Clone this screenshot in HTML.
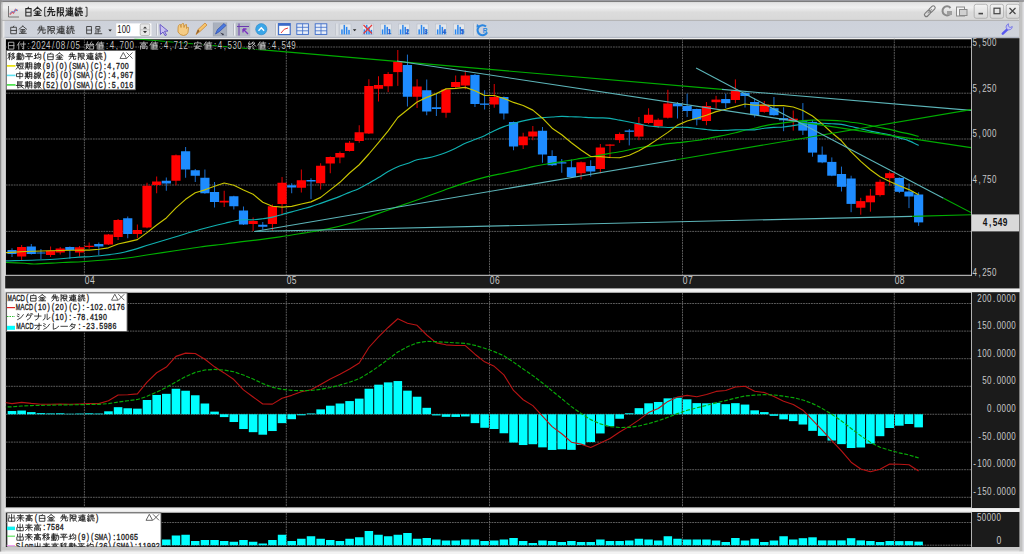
<!DOCTYPE html><html><head><meta charset="utf-8"><style>html,body{margin:0;padding:0;background:#ececec;overflow:hidden}svg{display:block}svg{font-family:"Liberation Sans",sans-serif}</style></head><body>
<svg width="1024" height="554" viewBox="0 0 1024 554">
<defs><linearGradient id="tb" x1="0" y1="0" x2="0" y2="1"><stop offset="0" stop-color="#e2e2e2"/><stop offset="0.28" stop-color="#f0f0f0"/><stop offset="0.55" stop-color="#dcdcdc"/><stop offset="1" stop-color="#d8d8d8"/></linearGradient><linearGradient id="btn" x1="0" y1="0" x2="0" y2="1"><stop offset="0" stop-color="#f4f4f4"/><stop offset="1" stop-color="#d6d6d6"/></linearGradient><linearGradient id="tool" x1="0" y1="0" x2="0" y2="1"><stop offset="0" stop-color="#cdd1da"/><stop offset="1" stop-color="#d0d4dc"/></linearGradient></defs>
<rect x="0" y="0" width="1024" height="554" fill="#e6e6e6"/>
<rect x="0" y="0" width="1024" height="1.1" fill="#9a9a9f"/>
<rect x="0" y="1" width="1024" height="1.2" fill="#7c7c7c"/>
<rect x="0" y="0" width="1.6" height="554" fill="#8e8e8e"/>
<rect x="1.6" y="2.2" width="1017.4" height="18.4" rx="3" fill="url(#tb)"/>
<rect x="1.6" y="1.6" width="1" height="552" fill="#bdbdbd"/>
<rect x="1019" y="1.6" width="3.7" height="550" fill="#c2c2c2"/>
<rect x="1022.7" y="1.6" width="1.3" height="550" fill="#dedee2"/>
<path d="M8.5 6v11h10.5" fill="none" stroke="#6a6a6a" stroke-width="0.9"/>
<path d="M9.8 14.5 L12 12 L13.5 13 L15.5 9.5 L17.5 10.5" fill="none" stroke="#e8505a" stroke-width="1.4"/>
<path d="M10 13.5 L12.5 11.5 L14.5 12.2 L16 9 L18 11" fill="none" stroke="#5a9ae8" stroke-width="0.9"/>
<path transform="translate(24.7 7.32) scale(0.7500 0.8600)" d="M5 0L4 1.5 M1.5 1.5H8.5V10H1.5Z M1.5 5.7H8.5" fill="none" stroke="#262626" stroke-width="1.05" vector-effect="non-scaling-stroke" stroke-linecap="square"/><path transform="translate(33.8 7.32) scale(0.7500 0.8600)" d="M5 0L0 4 M5 0L10 4 M2.5 4.5H7.5 M1.5 6.5H8.5 M5 4.5V9.5 M0.5 9.5H9.5 M3 7.5L3.5 8.8 M7 7.5L6.5 8.8" fill="none" stroke="#262626" stroke-width="1.05" vector-effect="non-scaling-stroke" stroke-linecap="square"/>
<path transform="translate(47.45 7.32) scale(0.7500 0.8600)" d="M3 0L2 3 M1 2.5H8 M5 0V5 M0 5H10 M3.5 5Q3 9 0.5 10 M6.5 5V9.5H9.5V8" fill="none" stroke="#262626" stroke-width="1.05" vector-effect="non-scaling-stroke" stroke-linecap="square"/><path transform="translate(56.55 7.32) scale(0.7500 0.8600)" d="M1 0.5V10 M1 0.5H3L2 3L3.5 5.5L1 7 M5 0.5H9V6H5Z M5 3.2H9 M5 6V10L7 8.5 M7 6L9.5 10" fill="none" stroke="#262626" stroke-width="1.05" vector-effect="non-scaling-stroke" stroke-linecap="square"/><path transform="translate(65.65 7.32) scale(0.7500 0.8600)" d="M1 1L2 2.2 M0.5 4H2V8L0 10 M1.5 8.5Q4 10 10 10 M3.5 1H9.5 M4 3H9V7H4Z M4 5H9 M3.5 8H9.5 M6.5 0V9.5" fill="none" stroke="#262626" stroke-width="1.05" vector-effect="non-scaling-stroke" stroke-linecap="square"/><path transform="translate(74.75 7.32) scale(0.7500 0.8600)" d="M2 0L0.8 3L3 3.5 M3 2L0.5 6.5H3.5 M2 6.5V10 M0.5 8L1 9.5 M3.5 8L3 9.5 M4.5 1H9.5 M7 0V3 M5 3H9 M4 5H10V6.5 M6 6.5L4.5 10 M8 6.5V9.5H10" fill="none" stroke="#262626" stroke-width="1.05" vector-effect="non-scaling-stroke" stroke-linecap="square"/>
<path d="M46.4 7.3h-1.7v8.9h1.7 M85.3 7.3h1.7v8.9h-1.7" fill="none" stroke="#262626" stroke-width="0.9"/>
<g transform="translate(929.8 11.2) rotate(-45)" fill="none" stroke="#7a7a7a" stroke-width="1.1"><rect x="-6.8" y="-1.9" width="7.4" height="3.8" rx="1.9"/><rect x="-0.6" y="-1.9" width="7.4" height="3.8" rx="1.9"/><path d="M-3 0h6" stroke="#9a9a9a"/></g>
<path d="M950.5 8 a4.5 4.5 0 1 0 0.5 5" fill="none" stroke="#8a8a8a" stroke-width="2"/><rect x="947" y="11" width="5" height="4" fill="#a0a0a0"/>
<rect x="956.5" y="7" width="8" height="9" fill="#f4f4f4" stroke="#8a8a8a" stroke-width="1"/><rect x="959.5" y="9.5" width="7.5" height="6" fill="#d0d0d0" stroke="#8a8a8a" stroke-width="1"/>
<rect x="974.2" y="4.3" width="13.4" height="14" rx="2" fill="url(#btn)" stroke="#a8a8a8" stroke-width="0.8"/>
<rect x="990.2" y="4.3" width="13.4" height="14" rx="2" fill="url(#btn)" stroke="#a8a8a8" stroke-width="0.8"/>
<rect x="1006.2" y="4.3" width="13.4" height="14" rx="2" fill="url(#btn)" stroke="#a8a8a8" stroke-width="0.8"/>
<rect x="978.5" y="12.8" width="4.5" height="1.6" fill="#444"/>
<rect x="994" y="8.2" width="6" height="5.5" fill="none" stroke="#444" stroke-width="1.2"/>
<path d="M1009.5 8 l6 6 M1015.5 8 l-6 6" stroke="#444" stroke-width="1.2"/>
<rect x="4.5" y="20.3" width="1014.5" height="17.2" fill="url(#tool)"/>
<rect x="1.6" y="19.9" width="1017.4" height="1" fill="#b2b2b2"/>
<rect x="4.5" y="36.9" width="1014.5" height="0.8" fill="#9aa2b2"/>
<path transform="translate(10.1 26.12) scale(0.7400 0.7600)" d="M5 0L4 1.5 M1.5 1.5H8.5V10H1.5Z M1.5 5.7H8.5" fill="none" stroke="#333" stroke-width="0.85" vector-effect="non-scaling-stroke" stroke-linecap="square"/><path transform="translate(19.1 26.12) scale(0.7400 0.7600)" d="M5 0L0 4 M5 0L10 4 M2.5 4.5H7.5 M1.5 6.5H8.5 M5 4.5V9.5 M0.5 9.5H9.5 M3 7.5L3.5 8.8 M7 7.5L6.5 8.8" fill="none" stroke="#333" stroke-width="0.85" vector-effect="non-scaling-stroke" stroke-linecap="square"/>
<path transform="translate(37.7 26.12) scale(0.7900 0.7600)" d="M3 0L2 3 M1 2.5H8 M5 0V5 M0 5H10 M3.5 5Q3 9 0.5 10 M6.5 5V9.5H9.5V8" fill="none" stroke="#333" stroke-width="0.85" vector-effect="non-scaling-stroke" stroke-linecap="square"/><path transform="translate(47.2 26.12) scale(0.7900 0.7600)" d="M1 0.5V10 M1 0.5H3L2 3L3.5 5.5L1 7 M5 0.5H9V6H5Z M5 3.2H9 M5 6V10L7 8.5 M7 6L9.5 10" fill="none" stroke="#333" stroke-width="0.85" vector-effect="non-scaling-stroke" stroke-linecap="square"/><path transform="translate(56.7 26.12) scale(0.7900 0.7600)" d="M1 1L2 2.2 M0.5 4H2V8L0 10 M1.5 8.5Q4 10 10 10 M3.5 1H9.5 M4 3H9V7H4Z M4 5H9 M3.5 8H9.5 M6.5 0V9.5" fill="none" stroke="#333" stroke-width="0.85" vector-effect="non-scaling-stroke" stroke-linecap="square"/><path transform="translate(66.2 26.12) scale(0.7900 0.7600)" d="M2 0L0.8 3L3 3.5 M3 2L0.5 6.5H3.5 M2 6.5V10 M0.5 8L1 9.5 M3.5 8L3 9.5 M4.5 1H9.5 M7 0V3 M5 3H9 M4 5H10V6.5 M6 6.5L4.5 10 M8 6.5V9.5H10" fill="none" stroke="#333" stroke-width="0.85" vector-effect="non-scaling-stroke" stroke-linecap="square"/>
<path transform="translate(85.7 26.12) scale(0.7200 0.7600)" d="M2 0.5H8V10H2Z M2 5.2H8" fill="none" stroke="#333" stroke-width="0.85" vector-effect="non-scaling-stroke" stroke-linecap="square"/><path transform="translate(94.5 26.12) scale(0.7200 0.7600)" d="M2.5 0.5H7.5V4H2.5Z M5 4V9 M5 6.5H8 M2 5.5V9 M0.5 10H10" fill="none" stroke="#333" stroke-width="0.85" vector-effect="non-scaling-stroke" stroke-linecap="square"/>
<path d="M108.3 29.6h3.6l-1.8 2z" fill="#222"/>
<rect x="116.2" y="23.4" width="35.2" height="12.6" fill="#fff"/>
<text x="117.3" y="33" font-size="10.5" textLength="13" lengthAdjust="spacingAndGlyphs" fill="#111" font-family="Liberation Sans">100</text>
<rect x="140.2" y="23.9" width="9.6" height="11.6" rx="1.5" fill="#e8e8e8" stroke="#9a9a9a" stroke-width="0.6"/><path d="M143 28.6h4l-2-2.2z M143 31h4l-2 2.2z" fill="#333"/><path d="M140.4 29.8h9.2" stroke="#9a9a9a" stroke-width="0.5"/>
<rect x="156" y="23.5" width="1" height="12" fill="#b8bcc4"/><rect x="157" y="23.5" width="0.8" height="12" fill="#f6f7f9"/>
<rect x="233" y="23.5" width="1" height="12" fill="#b8bcc4"/><rect x="234" y="23.5" width="0.8" height="12" fill="#f6f7f9"/>
<rect x="275" y="23.5" width="1" height="12" fill="#b8bcc4"/><rect x="276" y="23.5" width="0.8" height="12" fill="#f6f7f9"/>
<rect x="335.5" y="23.5" width="1" height="12" fill="#b8bcc4"/><rect x="336.5" y="23.5" width="0.8" height="12" fill="#f6f7f9"/>
<rect x="473.5" y="23.5" width="1" height="12" fill="#b8bcc4"/><rect x="474.5" y="23.5" width="0.8" height="12" fill="#f6f7f9"/>
<path d="M160 24.5 L168 31 L164.5 31.3 L166.5 35 L165 35.6 L163 32 L160.5 34.5 Z" fill="#c8c0f0" stroke="#6a5ac8" stroke-width="1"/>
<path d="M178 29 q0 -5 2.5 -4.5 l0.5 3 q0 -4.5 2.5 -4 l0.5 4 q0.5 -3.5 2.5 -3 l0 4 q1 -2 2 -1 l-0.5 5 q-1 3 -4.5 3 q-3.5 0 -5.5 -3.5 z" fill="#f5cc85" stroke="#c88a30" stroke-width="0.8"/>
<path d="M196 34.5 l2 -5 l7 -6.5 l2 2 l-7 6.5 z" fill="#f7c46a" stroke="#c8883a" stroke-width="0.8"/><path d="M196 34.5 l2 -5 l1.5 1.5z" fill="#8a5a2a"/>
<rect x="212.9" y="22.6" width="14.2" height="13.7" fill="#9aa2b0"/><rect x="213.3" y="23" width="13.4" height="12.9" fill="#a9b0bd"/>
<path d="M215.5 34 l2 -4.5 l6.5 -6 l2 2 l-6.5 6 z" fill="#4a7ae0" stroke="#2a4ab0" stroke-width="0.7"/><path d="M220 32.5 l4 1.5 l-1 1.5z" fill="#334"/>
<rect x="236" y="22.6" width="14.2" height="13.7" fill="#b4bac5"/><path d="M239 23.5v12 M237 26.5h12" stroke="#6a3ab0" stroke-width="1"/><path d="M243 29 l5 5 M243 29 h3.5 M243 29 v3.5" stroke="#7a30c0" stroke-width="1.3" fill="none"/>
<circle cx="261.3" cy="29.2" r="5.6" fill="#3aa6e8" stroke="#2a86c8" stroke-width="0.6"/><path d="M258.5 30.8 l2.8 -3 l2.8 3" fill="none" stroke="#fff" stroke-width="1.4"/>
<rect x="278.6" y="23.6" width="11.6" height="11" fill="#fff" stroke="#3a6ac8" stroke-width="1.1"/><rect x="278.6" y="23.6" width="11.6" height="2.2" fill="#3a6ac8"/><path d="M281 33 q3 -5 7 -5" stroke="#e83a3a" stroke-width="1" fill="none"/>
<rect x="296.8" y="23.8" width="11.6" height="10.6" fill="#e8eef8" stroke="#3a6ac8" stroke-width="0.9"/><path d="M296.8 27.3h11.6 M296.8 30.8h11.6 M302.6 23.8v10.6" stroke="#3a6ac8" stroke-width="0.8"/>
<rect x="315.2" y="23.8" width="11.6" height="10.6" fill="#e8eef8" stroke="#3a6ac8" stroke-width="0.9"/><path d="M315.2 27.3h11.6 M315.2 30.8h11.6 M321 23.8v10.6" stroke="#3a6ac8" stroke-width="0.8"/>
<rect x="339.8" y="24" width="11.2" height="10.7" fill="#e4e7ec" stroke="#b8bec8" stroke-width="0.6"/><rect x="341.2" y="29.4" width="1.5" height="5" fill="#2a86ee"/><rect x="343.55" y="24.9" width="1.5" height="9.5" fill="#2a86ee"/><rect x="345.9" y="26.9" width="1.5" height="7.5" fill="#2a86ee"/><rect x="348.25" y="29.9" width="1.5" height="4.5" fill="#2a86ee"/><path d="M352.8 29.3h3.6l-1.8 2z" fill="#222"/>
<rect x="362.2" y="24" width="11.2" height="10.7" fill="#e4e7ec" stroke="#b8bec8" stroke-width="0.6"/><rect x="363.6" y="29.4" width="1.5" height="5" fill="#2a86ee"/><rect x="365.95" y="24.9" width="1.5" height="9.5" fill="#2a86ee"/><rect x="368.3" y="26.9" width="1.5" height="7.5" fill="#2a86ee"/><rect x="370.65" y="29.9" width="1.5" height="4.5" fill="#2a86ee"/><path d="M363.5 25 l8.5 8.5 M372 25 l-8.5 8.5" stroke="#e83a3a" stroke-width="1.2"/>
<rect x="380.4" y="24" width="11.2" height="10.7" fill="#e4e7ec" stroke="#b8bec8" stroke-width="0.6"/><rect x="381.8" y="29.4" width="1.5" height="5" fill="#2a86ee"/><rect x="384.15" y="24.9" width="1.5" height="9.5" fill="#2a86ee"/><rect x="386.5" y="26.9" width="1.5" height="7.5" fill="#2a86ee"/><rect x="388.85" y="29.9" width="1.5" height="4.5" fill="#2a86ee"/><text x="387.4" y="33.5" font-size="6.5" fill="#2a5ac8" font-weight="bold" font-family="Liberation Sans">1</text>
<rect x="398.4" y="24" width="11.2" height="10.7" fill="#e4e7ec" stroke="#b8bec8" stroke-width="0.6"/><rect x="399.8" y="29.4" width="1.5" height="5" fill="#2a86ee"/><rect x="402.15" y="24.9" width="1.5" height="9.5" fill="#2a86ee"/><rect x="404.5" y="26.9" width="1.5" height="7.5" fill="#2a86ee"/><rect x="406.85" y="29.9" width="1.5" height="4.5" fill="#2a86ee"/><text x="405.4" y="33.5" font-size="6.5" fill="#2a5ac8" font-weight="bold" font-family="Liberation Sans">2</text>
<rect x="417" y="24" width="11.2" height="10.7" fill="#e4e7ec" stroke="#b8bec8" stroke-width="0.6"/><rect x="418.4" y="29.4" width="1.5" height="5" fill="#2a86ee"/><rect x="420.75" y="24.9" width="1.5" height="9.5" fill="#2a86ee"/><rect x="423.1" y="26.9" width="1.5" height="7.5" fill="#2a86ee"/><rect x="425.45" y="29.9" width="1.5" height="4.5" fill="#2a86ee"/><text x="424" y="33.5" font-size="6.5" fill="#2a5ac8" font-weight="bold" font-family="Liberation Sans">3</text>
<rect x="435.5" y="24" width="11.2" height="10.7" fill="#e4e7ec" stroke="#b8bec8" stroke-width="0.6"/><rect x="436.9" y="29.4" width="1.5" height="5" fill="#2a86ee"/><rect x="439.25" y="24.9" width="1.5" height="9.5" fill="#2a86ee"/><rect x="441.6" y="26.9" width="1.5" height="7.5" fill="#2a86ee"/><rect x="443.95" y="29.9" width="1.5" height="4.5" fill="#2a86ee"/><text x="442.5" y="33.5" font-size="6.5" fill="#2a5ac8" font-weight="bold" font-family="Liberation Sans">4</text>
<rect x="453.4" y="24" width="11.2" height="10.7" fill="#e4e7ec" stroke="#b8bec8" stroke-width="0.6"/><rect x="454.8" y="29.4" width="1.5" height="5" fill="#2a86ee"/><rect x="457.15" y="24.9" width="1.5" height="9.5" fill="#2a86ee"/><rect x="459.5" y="26.9" width="1.5" height="7.5" fill="#2a86ee"/><rect x="461.85" y="29.9" width="1.5" height="4.5" fill="#2a86ee"/><text x="460.4" y="33.5" font-size="6.5" fill="#2a5ac8" font-weight="bold" font-family="Liberation Sans">5</text>
<path d="M486 26.5 a5 5 0 1 0 1 6" fill="none" stroke="#2a86e0" stroke-width="2"/><path d="M477 24 l3 2.5 l-3.5 1z" fill="#2a86e0"/><text x="482.8" y="32.5" font-size="6.5" fill="#2a86e0" font-weight="bold" font-family="Liberation Sans">R</text>
<path d="M1002.8 33.6 l5.6 -5.2" stroke="#5858f0" stroke-width="2.5" stroke-linecap="round"/><path d="M1007 29.2 a3.3 3.3 0 0 1 1.5 -5.4 l-0.2 2.4 l1.8 1.3 l2.2 -1 a3.3 3.3 0 0 1 -5.3 2.7z" fill="#c4c4f4" stroke="#7474e4" stroke-width="0.9"/>
<rect x="1.6" y="37.7" width="3.6" height="516" fill="#d2d2d2"/>
<rect x="4.6" y="37.7" width="1" height="510" fill="#e4e4e4"/>
<rect x="5.2" y="38.2" width="1014.2" height="250.5" fill="#1b1b1b"/>
<rect x="5.6" y="38.6" width="965.6" height="236.6" fill="#000"/>
<rect x="5.1" y="37.9" width="966.8" height="1.4" fill="#ececec"/>
<rect x="5.1" y="37.9" width="0.9" height="238" fill="#dadada"/>
<rect x="971" y="37.9" width="0.9" height="238" fill="#c4c4c4"/>
<rect x="5.1" y="274.8" width="966.8" height="1" fill="#d2d2d2"/>
<line x1="5.8" y1="47" x2="971" y2="47" stroke="#686868" stroke-width="0.9" stroke-dasharray="1.8 0.84"/>
<line x1="5.8" y1="93.2" x2="971" y2="93.2" stroke="#686868" stroke-width="0.9" stroke-dasharray="1.8 0.84"/>
<line x1="5.8" y1="139" x2="971" y2="139" stroke="#686868" stroke-width="0.9" stroke-dasharray="1.8 0.84"/>
<line x1="5.8" y1="185" x2="971" y2="185" stroke="#686868" stroke-width="0.9" stroke-dasharray="1.8 0.84"/>
<line x1="5.8" y1="231.4" x2="971" y2="231.4" stroke="#686868" stroke-width="0.9" stroke-dasharray="1.8 0.84"/>
<line x1="84.4" y1="38.8" x2="84.4" y2="275" stroke="#686868" stroke-width="0.9" stroke-dasharray="1.8 0.84"/>
<line x1="286.3" y1="38.8" x2="286.3" y2="275" stroke="#686868" stroke-width="0.9" stroke-dasharray="1.8 0.84"/>
<line x1="489.5" y1="38.8" x2="489.5" y2="275" stroke="#686868" stroke-width="0.9" stroke-dasharray="1.8 0.84"/>
<line x1="682.5" y1="38.8" x2="682.5" y2="275" stroke="#686868" stroke-width="0.9" stroke-dasharray="1.8 0.84"/>
<line x1="894.3" y1="38.8" x2="894.3" y2="275" stroke="#686868" stroke-width="0.9" stroke-dasharray="1.8 0.84"/>
<g clip-path="url(#cm)">
<clipPath id="cm"><rect x="5.8" y="38.8" width="965.2" height="236.2"/></clipPath>
<line x1="12" y1="248.25" x2="12" y2="257" stroke="#1a70d0" stroke-width="1"/>
<rect x="7.4" y="250" width="9.2" height="4" fill="#1e8cff"/>
<line x1="21.64" y1="245" x2="21.64" y2="261" stroke="#e00000" stroke-width="1"/>
<rect x="17.05" y="247" width="9.2" height="9.5" fill="#ff0000"/>
<line x1="31.29" y1="244" x2="31.29" y2="254.5" stroke="#1a70d0" stroke-width="1"/>
<rect x="26.69" y="246.5" width="9.2" height="7.5" fill="#1e8cff"/>
<line x1="40.94" y1="249" x2="40.94" y2="259" stroke="#1a70d0" stroke-width="1"/>
<rect x="36.34" y="252.5" width="9.2" height="1" fill="#1e8cff"/>
<line x1="50.58" y1="246.5" x2="50.58" y2="257" stroke="#e00000" stroke-width="1"/>
<rect x="45.98" y="250.75" width="9.2" height="4.25" fill="#ff0000"/>
<line x1="60.22" y1="247" x2="60.22" y2="254.5" stroke="#e00000" stroke-width="1"/>
<rect x="55.62" y="248.5" width="9.2" height="4" fill="#ff0000"/>
<line x1="69.87" y1="246.5" x2="69.87" y2="258.75" stroke="#1a70d0" stroke-width="1"/>
<rect x="65.27" y="247" width="9.2" height="3" fill="#1e8cff"/>
<line x1="79.52" y1="246" x2="79.52" y2="256.5" stroke="#e00000" stroke-width="1"/>
<rect x="74.92" y="247.25" width="9.2" height="5.25" fill="#ff0000"/>
<line x1="89.16" y1="242.5" x2="89.16" y2="248.75" stroke="#e00000" stroke-width="1"/>
<rect x="84.56" y="245.75" width="9.2" height="1.25" fill="#ff0000"/>
<line x1="98.8" y1="242.5" x2="98.8" y2="255" stroke="#1a70d0" stroke-width="1"/>
<rect x="94.2" y="244" width="9.2" height="2.5" fill="#1e8cff"/>
<line x1="108.45" y1="234" x2="108.45" y2="245" stroke="#e00000" stroke-width="1"/>
<rect x="103.85" y="234.5" width="9.2" height="10" fill="#ff0000"/>
<line x1="118.09" y1="219" x2="118.09" y2="240" stroke="#e00000" stroke-width="1"/>
<rect x="113.5" y="220" width="9.2" height="17" fill="#ff0000"/>
<line x1="127.74" y1="216.5" x2="127.74" y2="238.25" stroke="#1a70d0" stroke-width="1"/>
<rect x="123.14" y="218.25" width="9.2" height="15.75" fill="#1e8cff"/>
<line x1="137.38" y1="224.5" x2="137.38" y2="238.25" stroke="#e00000" stroke-width="1"/>
<rect x="132.78" y="230" width="9.2" height="4" fill="#ff0000"/>
<line x1="147.03" y1="182.75" x2="147.03" y2="228.25" stroke="#e00000" stroke-width="1"/>
<rect x="142.43" y="185.75" width="9.2" height="41.75" fill="#ff0000"/>
<line x1="156.67" y1="176.5" x2="156.67" y2="193.25" stroke="#e00000" stroke-width="1"/>
<rect x="152.07" y="181.5" width="9.2" height="3.5" fill="#ff0000"/>
<line x1="166.32" y1="177.5" x2="166.32" y2="190.75" stroke="#1a70d0" stroke-width="1"/>
<rect x="161.72" y="180.75" width="9.2" height="2.75" fill="#1e8cff"/>
<line x1="175.97" y1="154.5" x2="175.97" y2="185.25" stroke="#e00000" stroke-width="1"/>
<rect x="171.37" y="155.25" width="9.2" height="25.5" fill="#ff0000"/>
<line x1="185.61" y1="147" x2="185.61" y2="177.75" stroke="#1a70d0" stroke-width="1"/>
<rect x="181.01" y="151.25" width="9.2" height="18.25" fill="#1e8cff"/>
<line x1="195.25" y1="169" x2="195.25" y2="182" stroke="#1a70d0" stroke-width="1"/>
<rect x="190.66" y="170.25" width="9.2" height="5.5" fill="#1e8cff"/>
<line x1="204.9" y1="169.5" x2="204.9" y2="193.75" stroke="#1a70d0" stroke-width="1"/>
<rect x="200.3" y="177.75" width="9.2" height="15.5" fill="#1e8cff"/>
<line x1="214.54" y1="182" x2="214.54" y2="207.5" stroke="#1a70d0" stroke-width="1"/>
<rect x="209.94" y="192" width="9.2" height="10" fill="#1e8cff"/>
<line x1="224.19" y1="190.75" x2="224.19" y2="207" stroke="#e00000" stroke-width="1"/>
<rect x="219.59" y="200.75" width="9.2" height="1.75" fill="#ff0000"/>
<line x1="233.83" y1="195.75" x2="233.83" y2="209.5" stroke="#1a70d0" stroke-width="1"/>
<rect x="229.23" y="196.25" width="9.2" height="10" fill="#1e8cff"/>
<line x1="243.48" y1="206.5" x2="243.48" y2="225" stroke="#1a70d0" stroke-width="1"/>
<rect x="238.88" y="210.5" width="9.2" height="14" fill="#1e8cff"/>
<line x1="253.12" y1="217.5" x2="253.12" y2="231" stroke="#e00000" stroke-width="1"/>
<rect x="248.53" y="221" width="9.2" height="3" fill="#ff0000"/>
<line x1="262.77" y1="222" x2="262.77" y2="229.75" stroke="#1a70d0" stroke-width="1"/>
<rect x="258.17" y="224.75" width="9.2" height="2" fill="#1e8cff"/>
<line x1="272.41" y1="204.5" x2="272.41" y2="230.75" stroke="#e00000" stroke-width="1"/>
<rect x="267.81" y="206.25" width="9.2" height="17.75" fill="#ff0000"/>
<line x1="282.06" y1="177" x2="282.06" y2="215.5" stroke="#e00000" stroke-width="1"/>
<rect x="277.46" y="182.75" width="9.2" height="21.25" fill="#ff0000"/>
<line x1="291.7" y1="183.25" x2="291.7" y2="193.25" stroke="#1a70d0" stroke-width="1"/>
<rect x="287.1" y="185.25" width="9.2" height="2.25" fill="#1e8cff"/>
<line x1="301.35" y1="169.5" x2="301.35" y2="192.5" stroke="#e00000" stroke-width="1"/>
<rect x="296.75" y="180.25" width="9.2" height="7.5" fill="#ff0000"/>
<line x1="311" y1="178.25" x2="311" y2="199" stroke="#1a70d0" stroke-width="1"/>
<rect x="306.39" y="180" width="9.2" height="1.5" fill="#1e8cff"/>
<line x1="320.64" y1="163.25" x2="320.64" y2="189.5" stroke="#e00000" stroke-width="1"/>
<rect x="316.04" y="165.75" width="9.2" height="17.5" fill="#ff0000"/>
<line x1="330.28" y1="156.5" x2="330.28" y2="173.25" stroke="#e00000" stroke-width="1"/>
<rect x="325.68" y="157" width="9.2" height="6.5" fill="#ff0000"/>
<line x1="339.93" y1="151.5" x2="339.93" y2="163.25" stroke="#e00000" stroke-width="1"/>
<rect x="335.33" y="153" width="9.2" height="4.5" fill="#ff0000"/>
<line x1="349.57" y1="141" x2="349.57" y2="151.5" stroke="#e00000" stroke-width="1"/>
<rect x="344.97" y="142.75" width="9.2" height="8.25" fill="#ff0000"/>
<line x1="359.22" y1="125.25" x2="359.22" y2="142.75" stroke="#e00000" stroke-width="1"/>
<rect x="354.62" y="132.25" width="9.2" height="8.75" fill="#ff0000"/>
<line x1="368.87" y1="79.25" x2="368.87" y2="134" stroke="#e00000" stroke-width="1"/>
<rect x="364.26" y="86" width="9.2" height="47.5" fill="#ff0000"/>
<line x1="378.51" y1="76.25" x2="378.51" y2="101.5" stroke="#e00000" stroke-width="1"/>
<rect x="373.91" y="85" width="9.2" height="3.75" fill="#ff0000"/>
<line x1="388.15" y1="72.1" x2="388.15" y2="92.1" stroke="#e00000" stroke-width="1"/>
<rect x="383.55" y="74" width="9.2" height="12.25" fill="#ff0000"/>
<line x1="397.8" y1="50" x2="397.8" y2="85.9" stroke="#e00000" stroke-width="1"/>
<rect x="393.2" y="61.5" width="9.2" height="10.6" fill="#ff0000"/>
<line x1="407.44" y1="54.6" x2="407.44" y2="106.5" stroke="#1a70d0" stroke-width="1"/>
<rect x="402.84" y="65" width="9.2" height="31.75" fill="#1e8cff"/>
<line x1="417.09" y1="79.25" x2="417.09" y2="108" stroke="#e00000" stroke-width="1"/>
<rect x="412.49" y="86.5" width="9.2" height="10.25" fill="#ff0000"/>
<line x1="426.73" y1="79.5" x2="426.73" y2="115.25" stroke="#1a70d0" stroke-width="1"/>
<rect x="422.13" y="90.25" width="9.2" height="21.25" fill="#1e8cff"/>
<line x1="436.38" y1="94" x2="436.38" y2="116" stroke="#1a70d0" stroke-width="1"/>
<rect x="431.78" y="107.25" width="9.2" height="1.75" fill="#1e8cff"/>
<line x1="446.02" y1="88.5" x2="446.02" y2="117.75" stroke="#e00000" stroke-width="1"/>
<rect x="441.42" y="89.5" width="9.2" height="23.25" fill="#ff0000"/>
<line x1="455.67" y1="75.5" x2="455.67" y2="88" stroke="#e00000" stroke-width="1"/>
<rect x="451.07" y="82" width="9.2" height="5" fill="#ff0000"/>
<line x1="465.31" y1="70.5" x2="465.31" y2="89.3" stroke="#e00000" stroke-width="1"/>
<rect x="460.71" y="75.5" width="9.2" height="10" fill="#ff0000"/>
<line x1="474.96" y1="74" x2="474.96" y2="107" stroke="#1a70d0" stroke-width="1"/>
<rect x="470.36" y="74.9" width="9.2" height="29.1" fill="#1e8cff"/>
<line x1="484.6" y1="90.25" x2="484.6" y2="109.5" stroke="#1a70d0" stroke-width="1"/>
<rect x="480" y="103.5" width="9.2" height="1.3" fill="#1e8cff"/>
<line x1="494.25" y1="84" x2="494.25" y2="107.75" stroke="#e00000" stroke-width="1"/>
<rect x="489.65" y="97" width="9.2" height="7.5" fill="#ff0000"/>
<line x1="503.89" y1="96.5" x2="503.89" y2="119.5" stroke="#1a70d0" stroke-width="1"/>
<rect x="499.29" y="97" width="9.2" height="16.5" fill="#1e8cff"/>
<line x1="513.54" y1="121.5" x2="513.54" y2="150.25" stroke="#1a70d0" stroke-width="1"/>
<rect x="508.94" y="122" width="9.2" height="24.5" fill="#1e8cff"/>
<line x1="523.18" y1="132.75" x2="523.18" y2="149" stroke="#e00000" stroke-width="1"/>
<rect x="518.58" y="136.5" width="9.2" height="8.75" fill="#ff0000"/>
<line x1="532.83" y1="126" x2="532.83" y2="140.25" stroke="#e00000" stroke-width="1"/>
<rect x="528.23" y="131.5" width="9.2" height="5" fill="#ff0000"/>
<line x1="542.48" y1="127" x2="542.48" y2="162.75" stroke="#1a70d0" stroke-width="1"/>
<rect x="537.88" y="130.75" width="9.2" height="23.75" fill="#1e8cff"/>
<line x1="552.12" y1="150.25" x2="552.12" y2="166" stroke="#1a70d0" stroke-width="1"/>
<rect x="547.52" y="156" width="9.2" height="9.25" fill="#1e8cff"/>
<line x1="561.76" y1="159" x2="561.76" y2="172.75" stroke="#1a70d0" stroke-width="1"/>
<rect x="557.16" y="162.25" width="9.2" height="1.25" fill="#1e8cff"/>
<line x1="571.41" y1="159.5" x2="571.41" y2="177.5" stroke="#1a70d0" stroke-width="1"/>
<rect x="566.81" y="167.25" width="9.2" height="9.75" fill="#1e8cff"/>
<line x1="581.05" y1="161.5" x2="581.05" y2="179.5" stroke="#e00000" stroke-width="1"/>
<rect x="576.45" y="162.25" width="9.2" height="11" fill="#ff0000"/>
<line x1="590.7" y1="160.25" x2="590.7" y2="176.5" stroke="#1a70d0" stroke-width="1"/>
<rect x="586.1" y="166" width="9.2" height="5.5" fill="#1e8cff"/>
<line x1="600.35" y1="144" x2="600.35" y2="173.25" stroke="#e00000" stroke-width="1"/>
<rect x="595.75" y="147.5" width="9.2" height="21.5" fill="#ff0000"/>
<line x1="609.99" y1="144.2" x2="609.99" y2="158.2" stroke="#e00000" stroke-width="1"/>
<rect x="605.39" y="144.5" width="9.2" height="1.25" fill="#ff0000"/>
<line x1="619.63" y1="132.5" x2="619.63" y2="142.9" stroke="#e00000" stroke-width="1"/>
<rect x="615.03" y="134" width="9.2" height="6.1" fill="#ff0000"/>
<line x1="629.28" y1="129" x2="629.28" y2="145.4" stroke="#1a70d0" stroke-width="1"/>
<rect x="624.68" y="130.5" width="9.2" height="1.3" fill="#1e8cff"/>
<line x1="638.92" y1="117" x2="638.92" y2="140.2" stroke="#e00000" stroke-width="1"/>
<rect x="634.32" y="124" width="9.2" height="12.6" fill="#ff0000"/>
<line x1="648.57" y1="108.3" x2="648.57" y2="124" stroke="#e00000" stroke-width="1"/>
<rect x="643.97" y="114.75" width="9.2" height="8.25" fill="#ff0000"/>
<line x1="658.21" y1="118.3" x2="658.21" y2="128" stroke="#e00000" stroke-width="1"/>
<rect x="653.61" y="119.75" width="9.2" height="6.5" fill="#ff0000"/>
<line x1="667.86" y1="89.75" x2="667.86" y2="118.5" stroke="#e00000" stroke-width="1"/>
<rect x="663.26" y="103.5" width="9.2" height="14.25" fill="#ff0000"/>
<line x1="677.5" y1="102" x2="677.5" y2="118.5" stroke="#1a70d0" stroke-width="1"/>
<rect x="672.9" y="103.5" width="9.2" height="2.8" fill="#1e8cff"/>
<line x1="687.15" y1="93.6" x2="687.15" y2="117" stroke="#1a70d0" stroke-width="1"/>
<rect x="682.55" y="106" width="9.2" height="5" fill="#1e8cff"/>
<line x1="696.79" y1="108.6" x2="696.79" y2="125.4" stroke="#1a70d0" stroke-width="1"/>
<rect x="692.19" y="109" width="9.2" height="10.6" fill="#1e8cff"/>
<line x1="706.44" y1="102" x2="706.44" y2="125.2" stroke="#e00000" stroke-width="1"/>
<rect x="701.84" y="106" width="9.2" height="15" fill="#ff0000"/>
<line x1="716.08" y1="95.8" x2="716.08" y2="108.3" stroke="#e00000" stroke-width="1"/>
<rect x="711.48" y="99.6" width="9.2" height="2.6" fill="#ff0000"/>
<line x1="725.73" y1="93.7" x2="725.73" y2="108.2" stroke="#1a70d0" stroke-width="1"/>
<rect x="721.13" y="99" width="9.2" height="4.2" fill="#1e8cff"/>
<line x1="735.38" y1="79.4" x2="735.38" y2="103.2" stroke="#e00000" stroke-width="1"/>
<rect x="730.77" y="90.8" width="9.2" height="9.2" fill="#ff0000"/>
<line x1="745.02" y1="91.8" x2="745.02" y2="107.5" stroke="#1a70d0" stroke-width="1"/>
<rect x="740.42" y="92.8" width="9.2" height="3.2" fill="#1e8cff"/>
<line x1="754.66" y1="98.3" x2="754.66" y2="117.4" stroke="#1a70d0" stroke-width="1"/>
<rect x="750.06" y="102" width="9.2" height="13.1" fill="#1e8cff"/>
<line x1="764.31" y1="101" x2="764.31" y2="112.7" stroke="#e00000" stroke-width="1"/>
<rect x="759.71" y="104.5" width="9.2" height="7.4" fill="#ff0000"/>
<line x1="773.95" y1="97" x2="773.95" y2="115.7" stroke="#1a70d0" stroke-width="1"/>
<rect x="769.35" y="108.2" width="9.2" height="7" fill="#1e8cff"/>
<line x1="783.6" y1="107.3" x2="783.6" y2="131.2" stroke="#1a70d0" stroke-width="1"/>
<rect x="779" y="118.1" width="9.2" height="2.2" fill="#1e8cff"/>
<line x1="793.25" y1="110.5" x2="793.25" y2="130.6" stroke="#e00000" stroke-width="1"/>
<rect x="788.64" y="118.7" width="9.2" height="2.1" fill="#ff0000"/>
<line x1="802.89" y1="103.1" x2="802.89" y2="135" stroke="#1a70d0" stroke-width="1"/>
<rect x="798.29" y="121.25" width="9.2" height="9.35" fill="#1e8cff"/>
<line x1="812.53" y1="120" x2="812.53" y2="156.7" stroke="#1a70d0" stroke-width="1"/>
<rect x="807.93" y="121.9" width="9.2" height="30.7" fill="#1e8cff"/>
<line x1="822.18" y1="146.5" x2="822.18" y2="163.2" stroke="#1a70d0" stroke-width="1"/>
<rect x="817.58" y="154.7" width="9.2" height="7.7" fill="#1e8cff"/>
<line x1="831.82" y1="157.4" x2="831.82" y2="176.2" stroke="#1a70d0" stroke-width="1"/>
<rect x="827.22" y="161.9" width="9.2" height="13.8" fill="#1e8cff"/>
<line x1="841.47" y1="166.6" x2="841.47" y2="191.5" stroke="#1a70d0" stroke-width="1"/>
<rect x="836.87" y="174" width="9.2" height="12.8" fill="#1e8cff"/>
<line x1="851.12" y1="175.7" x2="851.12" y2="212.2" stroke="#1a70d0" stroke-width="1"/>
<rect x="846.51" y="178.5" width="9.2" height="25.4" fill="#1e8cff"/>
<line x1="860.76" y1="197.8" x2="860.76" y2="214.7" stroke="#e00000" stroke-width="1"/>
<rect x="856.16" y="201.1" width="9.2" height="6.6" fill="#ff0000"/>
<line x1="870.4" y1="189" x2="870.4" y2="211.7" stroke="#e00000" stroke-width="1"/>
<rect x="865.8" y="195.6" width="9.2" height="6.7" fill="#ff0000"/>
<line x1="880.05" y1="179.5" x2="880.05" y2="196.5" stroke="#e00000" stroke-width="1"/>
<rect x="875.45" y="181.8" width="9.2" height="13.3" fill="#ff0000"/>
<line x1="889.69" y1="171.5" x2="889.69" y2="185.7" stroke="#e00000" stroke-width="1"/>
<rect x="885.09" y="173.2" width="9.2" height="5" fill="#ff0000"/>
<line x1="899.34" y1="177.4" x2="899.34" y2="193.1" stroke="#1a70d0" stroke-width="1"/>
<rect x="894.74" y="177.9" width="9.2" height="13.9" fill="#1e8cff"/>
<line x1="908.99" y1="183.5" x2="908.99" y2="208.1" stroke="#1a70d0" stroke-width="1"/>
<rect x="904.38" y="191.5" width="9.2" height="5" fill="#1e8cff"/>
<line x1="918.63" y1="192.3" x2="918.63" y2="225.9" stroke="#1a70d0" stroke-width="1"/>
<rect x="914.03" y="194.5" width="9.2" height="27.9" fill="#1e8cff"/>
<path d="M6 262.5 C9.17 262.62 20.17 263 25 263.25 C29.83 263.5 28.75 264.12 35 264 C41.25 263.88 54.17 262.92 62.5 262.5 C70.83 262.08 74.58 262.21 85 261.5 C95.42 260.79 114.17 259.42 125 258.25 C135.83 257.08 141.67 255.75 150 254.5 C158.33 253.25 166.67 252 175 250.75 C183.33 249.5 191.67 248.12 200 247 C208.33 245.88 218.33 244.85 225 244 C231.67 243.15 234.17 242.63 240 241.9 C245.83 241.17 253.33 240.43 260 239.6 C266.67 238.77 272.77 237.98 280 236.9 C287.23 235.82 295.58 234.4 303.4 233.1 C311.22 231.8 319.08 230.73 326.9 229.1 C334.72 227.47 342.5 225.63 350.3 223.3 C358.1 220.97 365.88 217.83 373.7 215.1 C381.52 212.37 389.38 209.63 397.2 206.9 C405.02 204.17 412.8 201.48 420.6 198.7 C428.4 195.92 436.97 192.72 444 190.2 C451.03 187.68 455.77 185.82 462.8 183.6 C469.83 181.38 479.35 178.63 486.2 176.9 C493.05 175.17 499.34 174.17 503.89 173.21 C508.45 172.25 510.32 171.84 513.54 171.14 C516.75 170.44 519.97 169.76 523.18 169.02 C526.4 168.27 529.61 167.37 532.83 166.66 C536.04 165.95 539.26 165.35 542.48 164.76 C545.69 164.17 548.9 163.66 552.12 163.12 C555.34 162.57 558.55 161.99 561.76 161.48 C564.98 160.98 568.19 160.58 571.41 160.08 C574.62 159.57 577.84 158.95 581.05 158.44 C584.27 157.93 587.48 157.57 590.7 157.02 C593.91 156.46 597.13 155.72 600.35 155.11 C603.56 154.51 606.77 153.94 609.99 153.38 C613.21 152.82 616.42 152.33 619.63 151.73 C622.85 151.12 626.06 150.43 629.28 149.76 C632.5 149.09 635.71 148.29 638.92 147.72 C642.14 147.16 645.35 146.78 648.57 146.36 C651.78 145.93 655 145.62 658.21 145.17 C661.43 144.72 664.64 144.05 667.86 143.63 C671.08 143.22 674.29 143.03 677.5 142.69 C680.72 142.35 683.93 141.93 687.15 141.57 C690.37 141.2 693.58 140.95 696.79 140.49 C700.01 140.03 703.22 139.42 706.44 138.81 C709.65 138.2 712.87 137.48 716.08 136.84 C719.3 136.2 722.51 135.65 725.73 134.96 C728.95 134.28 732.16 133.52 735.38 132.74 C738.59 131.96 741.8 131.02 745.02 130.27 C748.24 129.52 751.45 128.97 754.66 128.23 C757.88 127.5 761.09 126.57 764.31 125.88 C767.52 125.2 770.74 124.62 773.95 124.13 C777.17 123.64 780.38 123.35 783.6 122.93 C786.81 122.51 790.03 121.99 793.25 121.61 C796.46 121.23 799.67 120.91 802.89 120.65 C806.11 120.4 809.32 120.2 812.53 120.1 C815.75 119.99 818.96 119.98 822.18 120.03 C825.39 120.08 828.61 120.22 831.82 120.39 C835.04 120.56 838.25 120.74 841.47 121.04 C844.68 121.35 847.9 121.8 851.12 122.22 C854.33 122.64 857.54 122.97 860.76 123.54 C863.98 124.12 867.19 124.99 870.4 125.65 C873.62 126.31 876.83 126.88 880.05 127.51 C883.26 128.14 886.48 128.68 889.69 129.42 C892.91 130.16 896.12 131.19 899.34 131.93 C902.55 132.66 905.77 133.09 908.99 133.84 C912.2 134.6 917.02 136.02 918.63 136.46" fill="none" stroke="#00b000" stroke-width="1.15" stroke-linejoin="round"/>
<path d="M6 260.9 C13.33 260.67 38.5 260.07 50 259.5 C61.5 258.93 66.67 258.12 75 257.5 C83.33 256.88 91.67 256.67 100 255.75 C108.33 254.83 116.67 253.88 125 252 C133.33 250.12 141.67 247 150 244.5 C158.33 242 166.67 239.5 175 237 C183.33 234.5 191.67 231.79 200 229.5 C208.33 227.21 218.33 224.83 225 223.25 C231.67 221.67 235.31 220.58 240 220 C244.69 219.42 249.33 220 253.12 219.79 C256.92 219.58 259.56 219.18 262.77 218.74 C265.98 218.3 269.2 217.89 272.41 217.17 C275.63 216.46 278.85 215.31 282.06 214.43 C285.27 213.55 288.49 212.78 291.7 211.9 C294.92 211.03 298.13 210.07 301.35 209.19 C304.56 208.31 307.78 207.58 311 206.62 C314.21 205.65 317.43 204.49 320.64 203.38 C323.85 202.26 327.07 201.08 330.28 199.9 C333.5 198.73 336.72 197.6 339.93 196.34 C343.14 195.08 346.36 193.67 349.57 192.35 C352.79 191.03 356 189.93 359.22 188.41 C362.43 186.9 365.65 185.07 368.87 183.26 C372.08 181.45 375.3 179.48 378.51 177.53 C381.72 175.57 384.94 173.33 388.15 171.53 C391.37 169.73 394.58 168.09 397.8 166.75 C401.01 165.41 404.23 164.66 407.44 163.49 C410.66 162.33 413.88 160.66 417.09 159.76 C420.3 158.86 423.52 158.75 426.73 158.08 C429.95 157.41 433.16 156.69 436.38 155.75 C439.6 154.81 442.81 153.7 446.02 152.43 C449.24 151.17 452.45 149.68 455.67 148.15 C458.88 146.63 462.1 144.72 465.31 143.29 C468.53 141.86 471.75 140.84 474.96 139.57 C478.17 138.3 481.39 137.13 484.6 135.67 C487.82 134.2 491.03 132.27 494.25 130.76 C497.47 129.26 500.68 127.83 503.89 126.63 C507.11 125.42 510.32 124.5 513.54 123.54 C516.75 122.58 519.97 121.63 523.18 120.86 C526.4 120.08 529.61 119.43 532.83 118.89 C536.04 118.35 539.26 117.93 542.48 117.62 C545.69 117.31 548.9 117.25 552.12 117.04 C555.34 116.83 558.55 116.39 561.76 116.35 C564.98 116.3 568.19 116.68 571.41 116.78 C574.62 116.89 577.84 116.83 581.05 116.98 C584.27 117.13 587.48 117.55 590.7 117.69 C593.91 117.84 597.13 117.77 600.35 117.88 C603.56 117.99 606.77 117.96 609.99 118.35 C613.21 118.73 616.42 119.59 619.63 120.19 C622.85 120.8 626.06 121.37 629.28 121.99 C632.5 122.61 635.71 123.26 638.92 123.92 C642.14 124.58 645.35 125.48 648.57 125.97 C651.78 126.45 655 126.59 658.21 126.85 C661.43 127.11 664.64 127.43 667.86 127.5 C671.08 127.58 674.29 127.32 677.5 127.3 C680.72 127.28 683.93 127.17 687.15 127.38 C690.37 127.59 693.58 128.19 696.79 128.54 C700.01 128.89 703.22 129.15 706.44 129.46 C709.65 129.77 712.87 130.24 716.08 130.39 C719.3 130.54 722.51 130.45 725.73 130.36 C728.95 130.26 732.16 129.92 735.38 129.82 C738.59 129.72 741.8 129.78 745.02 129.78 C748.24 129.78 751.45 130.1 754.66 129.84 C757.88 129.58 761.09 128.63 764.31 128.23 C767.52 127.82 770.74 127.62 773.95 127.41 C777.17 127.2 780.38 127.28 783.6 126.98 C786.81 126.68 790.03 126.05 793.25 125.6 C796.46 125.15 799.67 124.56 802.89 124.27 C806.11 123.98 809.32 124.01 812.53 123.85 C815.75 123.68 818.96 123.29 822.18 123.29 C825.39 123.28 828.61 123.62 831.82 123.8 C835.04 123.99 838.25 123.93 841.47 124.39 C844.68 124.85 847.9 125.84 851.12 126.56 C854.33 127.29 857.54 127.98 860.76 128.74 C863.98 129.5 867.19 130.39 870.4 131.11 C873.62 131.82 876.83 132.39 880.05 133.03 C883.26 133.67 886.48 134.11 889.69 134.92 C892.91 135.73 896.12 136.9 899.34 137.89 C902.55 138.87 905.77 139.58 908.99 140.84 C912.2 142.09 917.02 144.65 918.63 145.41" fill="none" stroke="#10b0b0" stroke-width="1.15" stroke-linejoin="round"/>
<polyline points="6,252.6 25,251.5 50,250.75 82.5,250 89.16,250.06 98.8,249.22 108.45,247.83 118.09,244.06 127.74,241.92 137.38,239.61 147.03,232.64 156.67,225.03 166.32,217.94 175.97,207.89 185.61,199.33 195.25,192.81 204.9,189.83 214.54,186.28 224.19,183.03 233.83,185.31 243.48,190.08 253.12,194.25 262.77,202.19 272.41,206.28 282.06,207.06 291.7,206.42 301.35,204 311,201.86 320.64,197.36 330.28,189.86 339.93,182.31 349.57,172.97 359.22,164.75 368.87,154 378.51,142.61 388.15,130.81 397.8,117.47 407.44,109.81 417.09,101.97 426.73,97.36 436.38,93.61 446.02,88.86 455.67,88.42 465.31,87.36 474.96,90.69 484.6,95.51 494.25,95.53 503.89,98.53 513.54,102.42 523.18,105.48 532.83,110.14 542.48,118.2 552.12,128.17 561.76,134.78 571.41,142.81 581.05,150.06 590.7,156.5 600.35,156.61 609.99,157.5 619.63,157.78 629.28,155.26 638.92,150.67 648.57,145.26 658.21,138.89 667.86,132.37 677.5,125.12 687.15,121.07 696.79,118.3 706.44,115.19 716.08,111.61 725.73,109.3 735.38,106.64 745.02,104 754.66,105.29 764.31,105.09 773.95,105.56 783.6,105.63 793.25,107.04 802.89,110.49 812.53,115.98 822.18,123.93 831.82,132.79 841.47,140.76 851.12,151.8 860.76,161.34 870.4,169.71 880.05,176.72 889.69,181.46 899.34,185.81 908.99,189.6 918.63,194.79" fill="none" stroke="#c8c400" stroke-width="1.15" stroke-linejoin="round"/>
<line x1="134.4" y1="38.8" x2="722" y2="89.4" stroke="#00ac00" stroke-width="1.1"/>
<line x1="722" y1="89.4" x2="971" y2="110.4" stroke="#5cb4b8" stroke-width="1.1"/>
<line x1="397" y1="61" x2="797" y2="121.4" stroke="#5cb4b8" stroke-width="1.1"/>
<line x1="797" y1="121.4" x2="971" y2="147.6" stroke="#00ac00" stroke-width="1.1"/>
<line x1="254.4" y1="231.5" x2="676.3" y2="159.8" stroke="#5cb4b8" stroke-width="1.1"/>
<line x1="676.3" y1="159.8" x2="971" y2="109.6" stroke="#00ac00" stroke-width="1.1"/>
<line x1="254.4" y1="231.5" x2="912" y2="216.4" stroke="#5cb4b8" stroke-width="1.1"/>
<line x1="912" y1="216.4" x2="971" y2="214.8" stroke="#00ac00" stroke-width="1.1"/>
<line x1="696.1" y1="68.1" x2="943.5" y2="198.3" stroke="#5cb4b8" stroke-width="1.1"/>
<line x1="943.5" y1="198.3" x2="971" y2="212.6" stroke="#00ac00" stroke-width="1.1"/>
</g>
<g stroke-linejoin="round"><rect x="6.9" y="41.18" width="9.21" height="8.4" fill="#000"/><path transform="translate(7.3 41.88) scale(0.8210 0.7200)" d="M2 0.5H8V10H2Z M2 5.2H8" fill="none" stroke="#c4c4c4" stroke-width="0.85" vector-effect="non-scaling-stroke" stroke-linecap="square"/><rect x="16.71" y="41.18" width="9.21" height="8.4" fill="#000"/><path transform="translate(17.11 41.88) scale(0.8210 0.7200)" d="M3 0L0.5 4.5 M2 3V10 M4 3H10 M8 0V10L6.5 9 M5.5 5.5L6.5 7" fill="none" stroke="#c4c4c4" stroke-width="0.85" vector-effect="non-scaling-stroke" stroke-linecap="square"/><text transform="scale(0.8,1)" x="35.84 41.97 48.1 54.23 60.37 66.5 72.63 78.76 84.89 91.02 97.15" y="48.6" font-family="Liberation Sans" font-size="10" text-anchor="middle" fill="#c4c4c4" stroke="#000" stroke-width="1.6" paint-order="stroke">:2024/08/05</text><rect x="85.38" y="41.18" width="9.21" height="8.4" fill="#000"/><path transform="translate(85.78 41.88) scale(0.8210 0.7200)" d="M2 0Q1.5 5 0.5 9 M0 4H4.5 M3.5 4Q3 8 0.5 10 M1 6.5L4 10 M7 0L5 3.5H9.5 M8.5 2.5L9.5 4 M5.5 5.5H9.5V10H5.5Z" fill="none" stroke="#c4c4c4" stroke-width="0.85" vector-effect="non-scaling-stroke" stroke-linecap="square"/><rect x="95.19" y="41.18" width="9.21" height="8.4" fill="#000"/><path transform="translate(95.59 41.88) scale(0.8210 0.7200)" d="M3 0L0.5 4.5 M2 3V10 M4 1.5H10 M7 0V3 M5 3H9V8.5H5Z M5 5H9 M5 6.8H9 M4 10H10 M4 3V10" fill="none" stroke="#c4c4c4" stroke-width="0.85" vector-effect="non-scaling-stroke" stroke-linecap="square"/><text transform="scale(0.8,1)" x="133.94 140.07 146.2 152.33 158.47 164.6" y="48.6" font-family="Liberation Sans" font-size="10" text-anchor="middle" fill="#c4c4c4" stroke="#000" stroke-width="1.6" paint-order="stroke">:4,700</text><rect x="139.34" y="41.18" width="9.21" height="8.4" fill="#000"/><path transform="translate(139.74 41.88) scale(0.8210 0.7200)" d="M5 0V1 M0.5 1.5H9.5 M3 2.8H7V4.5H3Z M1 6V10 M1 6H9V10L8 9.5 M3.5 7.3H6.5V9H3.5Z" fill="none" stroke="#c4c4c4" stroke-width="0.85" vector-effect="non-scaling-stroke" stroke-linecap="square"/><rect x="149.15" y="41.18" width="9.21" height="8.4" fill="#000"/><path transform="translate(149.55 41.88) scale(0.8210 0.7200)" d="M3 0L0.5 4.5 M2 3V10 M4 1.5H10 M7 0V3 M5 3H9V8.5H5Z M5 5H9 M5 6.8H9 M4 10H10 M4 3V10" fill="none" stroke="#c4c4c4" stroke-width="0.85" vector-effect="non-scaling-stroke" stroke-linecap="square"/><text transform="scale(0.8,1)" x="201.38 207.52 213.65 219.78 225.91 232.04" y="48.6" font-family="Liberation Sans" font-size="10" text-anchor="middle" fill="#c4c4c4" stroke="#000" stroke-width="1.6" paint-order="stroke">:4,712</text><rect x="193.29" y="41.18" width="9.21" height="8.4" fill="#000"/><path transform="translate(193.69 41.88) scale(0.8210 0.7200)" d="M5 0V1 M1 3V1.5H9V3 M4.5 3.5Q4 6 2 9 M0.5 6H9.5 M7 6Q6 9 1.5 10 M3 7.5L8.5 10" fill="none" stroke="#c4c4c4" stroke-width="0.85" vector-effect="non-scaling-stroke" stroke-linecap="square"/><rect x="203.1" y="41.18" width="9.21" height="8.4" fill="#000"/><path transform="translate(203.5 41.88) scale(0.8210 0.7200)" d="M3 0L0.5 4.5 M2 3V10 M4 1.5H10 M7 0V3 M5 3H9V8.5H5Z M5 5H9 M5 6.8H9 M4 10H10 M4 3V10" fill="none" stroke="#c4c4c4" stroke-width="0.85" vector-effect="non-scaling-stroke" stroke-linecap="square"/><text transform="scale(0.8,1)" x="268.83 274.96 281.09 287.22 293.35 299.48" y="48.6" font-family="Liberation Sans" font-size="10" text-anchor="middle" fill="#c4c4c4" stroke="#000" stroke-width="1.6" paint-order="stroke">:4,530</text><rect x="247.25" y="41.18" width="9.21" height="8.4" fill="#000"/><path transform="translate(247.65 41.88) scale(0.8210 0.7200)" d="M2 0L0.8 3L3 3.5 M3 2L0.5 6.5H3.5 M2 6.5V10 M0.5 8L1 9.5 M3.5 8L3 9.5 M6.5 0L4.5 3 M5.5 1.5H9L5 6 M6.5 3L10 6 M6.5 6.5L7.5 7.3 M6 8.5L8 10" fill="none" stroke="#c4c4c4" stroke-width="0.85" vector-effect="non-scaling-stroke" stroke-linecap="square"/><rect x="257.06" y="41.18" width="9.21" height="8.4" fill="#000"/><path transform="translate(257.46 41.88) scale(0.8210 0.7200)" d="M3 0L0.5 4.5 M2 3V10 M4 1.5H10 M7 0V3 M5 3H9V8.5H5Z M5 5H9 M5 6.8H9 M4 10H10 M4 3V10" fill="none" stroke="#c4c4c4" stroke-width="0.85" vector-effect="non-scaling-stroke" stroke-linecap="square"/><text transform="scale(0.8,1)" x="336.27 342.4 348.53 354.67 360.8 366.93" y="48.6" font-family="Liberation Sans" font-size="10" text-anchor="middle" fill="#c4c4c4" stroke="#000" stroke-width="1.6" paint-order="stroke">:4,549</text></g>
<rect x="6.3" y="50.6" width="129" height="39.2" fill="#fff" stroke="#6a6a6a" stroke-width="0.8"/>
<path transform="translate(8 53.02) scale(0.7100 0.6600)" d="M3.5 0L0.5 1 M0 3H4 M2 1V10 M2 4L0 8 M2 4.5L4 6 M7 0L5 2.5 M6 1H9L5.5 5 M7 3L8 3.5 M7.5 5L5 8 M7 6H10L5 10 M7.5 8L8.5 8.5" fill="none" stroke="#222" stroke-width="0.85" vector-effect="non-scaling-stroke" stroke-linecap="square"/><path transform="translate(16.7 53.02) scale(0.7100 0.6600)" d="M1 0.8H5.5 M3 0V9.5 M0.5 2.5H5.5 M1 4H5V7H1Z M1 5.5H5 M0.5 8.3H5.5 M0 10H6 M6.5 3H10V9L8.5 10 M8 0.5Q8 7 6 10" fill="none" stroke="#222" stroke-width="0.85" vector-effect="non-scaling-stroke" stroke-linecap="square"/><path transform="translate(25.4 53.02) scale(0.7100 0.6600)" d="M1 1H9 M2.5 2.5L3.5 4.5 M7.5 2.5L6.5 4.5 M0 5.5H10 M5 1V10" fill="none" stroke="#222" stroke-width="0.85" vector-effect="non-scaling-stroke" stroke-linecap="square"/><path transform="translate(34.1 53.02) scale(0.7100 0.6600)" d="M0.5 4H3.5 M2 1V8 M0 8.5L4 7 M6 0L4.5 3 M5.5 2H9.5V9L8 10 M6 4.5L7 5.5 M5 8L8 6.5" fill="none" stroke="#222" stroke-width="0.85" vector-effect="non-scaling-stroke" stroke-linecap="square"/><text transform="scale(0.8,1)" x="55.34" y="59.2" font-family="Liberation Sans" font-size="8.8" text-anchor="middle" fill="#222" stroke="#222" stroke-width="0.35">(</text><path transform="translate(47.15 53.02) scale(0.7100 0.6600)" d="M5 0L4 1.5 M1.5 1.5H8.5V10H1.5Z M1.5 5.7H8.5" fill="none" stroke="#222" stroke-width="0.85" vector-effect="non-scaling-stroke" stroke-linecap="square"/><path transform="translate(55.85 53.02) scale(0.7100 0.6600)" d="M5 0L0 4 M5 0L10 4 M2.5 4.5H7.5 M1.5 6.5H8.5 M5 4.5V9.5 M0.5 9.5H9.5 M3 7.5L3.5 8.8 M7 7.5L6.5 8.8" fill="none" stroke="#222" stroke-width="0.85" vector-effect="non-scaling-stroke" stroke-linecap="square"/><path transform="translate(68.9 53.02) scale(0.7100 0.6600)" d="M3 0L2 3 M1 2.5H8 M5 0V5 M0 5H10 M3.5 5Q3 9 0.5 10 M6.5 5V9.5H9.5V8" fill="none" stroke="#222" stroke-width="0.85" vector-effect="non-scaling-stroke" stroke-linecap="square"/><path transform="translate(77.6 53.02) scale(0.7100 0.6600)" d="M1 0.5V10 M1 0.5H3L2 3L3.5 5.5L1 7 M5 0.5H9V6H5Z M5 3.2H9 M5 6V10L7 8.5 M7 6L9.5 10" fill="none" stroke="#222" stroke-width="0.85" vector-effect="non-scaling-stroke" stroke-linecap="square"/><path transform="translate(86.3 53.02) scale(0.7100 0.6600)" d="M1 1L2 2.2 M0.5 4H2V8L0 10 M1.5 8.5Q4 10 10 10 M3.5 1H9.5 M4 3H9V7H4Z M4 5H9 M3.5 8H9.5 M6.5 0V9.5" fill="none" stroke="#222" stroke-width="0.85" vector-effect="non-scaling-stroke" stroke-linecap="square"/><path transform="translate(95 53.02) scale(0.7100 0.6600)" d="M2 0L0.8 3L3 3.5 M3 2L0.5 6.5H3.5 M2 6.5V10 M0.5 8L1 9.5 M3.5 8L3 9.5 M4.5 1H9.5 M7 0V3 M5 3H9 M4 5H10V6.5 M6 6.5L4.5 10 M8 6.5V9.5H10" fill="none" stroke="#222" stroke-width="0.85" vector-effect="non-scaling-stroke" stroke-linecap="square"/><text transform="scale(0.8,1)" x="131.47" y="59.2" font-family="Liberation Sans" font-size="8.8" text-anchor="middle" fill="#222" stroke="#222" stroke-width="0.35">)</text>
<path d="M120 58.5 l3.3 -6 l3.3 6 z M126.5 52.5 l6 6 M132.5 52.5 l-6 6" fill="none" stroke="#555" stroke-width="0.9"/>
<rect x="7" y="65.1" width="8.5" height="1.6" fill="#e8e000"/>
<path transform="translate(16.3 62.52) scale(0.7120 0.6600)" d="M1.5 0L0.5 2.5 M1 2H4 M0.5 4.5H4.5 M2.5 2V5Q2 8 0 10 M2.5 6L4.5 10 M5 1H10 M5.5 2.5H9.5V5.5H5.5Z M6 6.5L6.5 8 M9 6.5L8.5 8 M5 9.5H10" fill="none" stroke="#222" stroke-width="0.85" vector-effect="non-scaling-stroke" stroke-linecap="square"/><path transform="translate(25.02 62.52) scale(0.7120 0.6600)" d="M0.5 2H5 M1.5 0V7 M3.5 0V7 M1.5 3.8H3.5 M1.5 5.5H3.5 M0 7H5 M1.5 8L0.5 10 M3.5 8L4.5 10 M6 0.5H9.5V10L8.5 9.5 M6 0.5V7Q6 9 5 10 M6 3.5H9.5 M6 6.5H9.5" fill="none" stroke="#222" stroke-width="0.85" vector-effect="non-scaling-stroke" stroke-linecap="square"/><path transform="translate(33.74 62.52) scale(0.7120 0.6600)" d="M2 0L0.8 3L3 3.5 M3 2L0.5 6.5H3.5 M2 6.5V10 M0.5 8L1 9.5 M3.5 8L3 9.5 M7 0L6.5 1 M5 1.5H9.5V5H5Z M5 3.2H9.5 M7.3 5V10L6.5 9.5 M5 6.5L4.5 9 M9.5 6L7.5 7.5 M7.5 7L10 10" fill="none" stroke="#222" stroke-width="0.85" vector-effect="non-scaling-stroke" stroke-linecap="square"/><text transform="scale(0.8,1)" x="54.92 60.37 65.82 71.27 76.72 82.17 87.62 109.42 114.88 125.78 131.22 136.67 142.12 147.57 153.03 158.47" y="68.7" font-family="Liberation Sans" font-size="8.8" text-anchor="middle" fill="#222" stroke="#222" stroke-width="0.35">(9)(0)()():4,700</text><text transform="scale(0.75,1)" x="99.28 110.91" y="68.7" font-family="Liberation Sans" font-size="8.8" text-anchor="middle" fill="#222" stroke="#222" stroke-width="0.35">SA</text><text transform="scale(0.6,1)" x="131.37" y="68.7" font-family="Liberation Sans" font-size="8.8" text-anchor="middle" fill="#222" stroke="#222" stroke-width="0.35">M</text><text transform="scale(0.65,1)" x="148.09" y="68.7" font-family="Liberation Sans" font-size="8.8" text-anchor="middle" fill="#222" stroke="#222" stroke-width="0.35">C</text>
<rect x="7" y="74.6" width="8.5" height="1.6" fill="#60e0f0"/>
<path transform="translate(16.3 72.02) scale(0.7120 0.6600)" d="M1 2.5H9V7H1Z M5 0V10" fill="none" stroke="#222" stroke-width="0.85" vector-effect="non-scaling-stroke" stroke-linecap="square"/><path transform="translate(25.02 72.02) scale(0.7120 0.6600)" d="M0.5 2H5 M1.5 0V7 M3.5 0V7 M1.5 3.8H3.5 M1.5 5.5H3.5 M0 7H5 M1.5 8L0.5 10 M3.5 8L4.5 10 M6 0.5H9.5V10L8.5 9.5 M6 0.5V7Q6 9 5 10 M6 3.5H9.5 M6 6.5H9.5" fill="none" stroke="#222" stroke-width="0.85" vector-effect="non-scaling-stroke" stroke-linecap="square"/><path transform="translate(33.74 72.02) scale(0.7120 0.6600)" d="M2 0L0.8 3L3 3.5 M3 2L0.5 6.5H3.5 M2 6.5V10 M0.5 8L1 9.5 M3.5 8L3 9.5 M7 0L6.5 1 M5 1.5H9.5V5H5Z M5 3.2H9.5 M7.3 5V10L6.5 9.5 M5 6.5L4.5 9 M9.5 6L7.5 7.5 M7.5 7L10 10" fill="none" stroke="#222" stroke-width="0.85" vector-effect="non-scaling-stroke" stroke-linecap="square"/><text transform="scale(0.8,1)" x="54.92 60.37 65.82 71.27 76.72 82.17 87.62 93.08 114.88 120.33 131.22 136.67 142.12 147.57 153.03 158.47 163.93" y="78.2" font-family="Liberation Sans" font-size="8.8" text-anchor="middle" fill="#222" stroke="#222" stroke-width="0.35">(26)(0)()():4,967</text><text transform="scale(0.75,1)" x="105.09 116.72" y="78.2" font-family="Liberation Sans" font-size="8.8" text-anchor="middle" fill="#222" stroke="#222" stroke-width="0.35">SA</text><text transform="scale(0.6,1)" x="138.63" y="78.2" font-family="Liberation Sans" font-size="8.8" text-anchor="middle" fill="#222" stroke="#222" stroke-width="0.35">M</text><text transform="scale(0.65,1)" x="154.8" y="78.2" font-family="Liberation Sans" font-size="8.8" text-anchor="middle" fill="#222" stroke="#222" stroke-width="0.35">C</text>
<rect x="7" y="84.1" width="8.5" height="1.6" fill="#40e040"/>
<path transform="translate(16.3 81.52) scale(0.7120 0.6600)" d="M2 0.5V6 M2 0.5H8.5 M2 2.2H7.5 M2 4H7.5 M0 6H10 M2 6V10L4.5 8.5 M5 6L10 10 M8.5 6.5L6.5 8.5" fill="none" stroke="#222" stroke-width="0.85" vector-effect="non-scaling-stroke" stroke-linecap="square"/><path transform="translate(25.02 81.52) scale(0.7120 0.6600)" d="M0.5 2H5 M1.5 0V7 M3.5 0V7 M1.5 3.8H3.5 M1.5 5.5H3.5 M0 7H5 M1.5 8L0.5 10 M3.5 8L4.5 10 M6 0.5H9.5V10L8.5 9.5 M6 0.5V7Q6 9 5 10 M6 3.5H9.5 M6 6.5H9.5" fill="none" stroke="#222" stroke-width="0.85" vector-effect="non-scaling-stroke" stroke-linecap="square"/><path transform="translate(33.74 81.52) scale(0.7120 0.6600)" d="M2 0L0.8 3L3 3.5 M3 2L0.5 6.5H3.5 M2 6.5V10 M0.5 8L1 9.5 M3.5 8L3 9.5 M7 0L6.5 1 M5 1.5H9.5V5H5Z M5 3.2H9.5 M7.3 5V10L6.5 9.5 M5 6.5L4.5 9 M9.5 6L7.5 7.5 M7.5 7L10 10" fill="none" stroke="#222" stroke-width="0.85" vector-effect="non-scaling-stroke" stroke-linecap="square"/><text transform="scale(0.8,1)" x="54.92 60.37 65.82 71.27 76.72 82.17 87.62 93.08 114.88 120.33 131.22 136.67 142.12 147.57 153.03 158.47 163.93" y="87.7" font-family="Liberation Sans" font-size="8.8" text-anchor="middle" fill="#222" stroke="#222" stroke-width="0.35">(52)(0)()():5,016</text><text transform="scale(0.75,1)" x="105.09 116.72" y="87.7" font-family="Liberation Sans" font-size="8.8" text-anchor="middle" fill="#222" stroke="#222" stroke-width="0.35">SA</text><text transform="scale(0.6,1)" x="138.63" y="87.7" font-family="Liberation Sans" font-size="8.8" text-anchor="middle" fill="#222" stroke="#222" stroke-width="0.35">M</text><text transform="scale(0.65,1)" x="154.8" y="87.7" font-family="Liberation Sans" font-size="8.8" text-anchor="middle" fill="#222" stroke="#222" stroke-width="0.35">C</text>
<text transform="scale(0.8,1)" x="1218.41 1224.49 1230.56 1236.64 1242.71" y="45.6" font-family="Liberation Sans" font-size="10" text-anchor="middle" fill="#c8c8c8">5,500</text>
<text transform="scale(0.8,1)" x="1218.41 1224.49 1230.56 1236.64 1242.71" y="91.8" font-family="Liberation Sans" font-size="10" text-anchor="middle" fill="#c8c8c8">5,250</text>
<text transform="scale(0.8,1)" x="1218.41 1224.49 1230.56 1236.64 1242.71" y="137.3" font-family="Liberation Sans" font-size="10" text-anchor="middle" fill="#c8c8c8">5,000</text>
<text transform="scale(0.8,1)" x="1218.41 1224.49 1230.56 1236.64 1242.71" y="183.5" font-family="Liberation Sans" font-size="10" text-anchor="middle" fill="#c8c8c8">4,750</text>
<text transform="scale(0.8,1)" x="1218.41 1224.49 1230.56 1236.64 1242.71" y="276.2" font-family="Liberation Sans" font-size="10" text-anchor="middle" fill="#c8c8c8">4,250</text>
<rect x="972" y="214.4" width="47" height="17" fill="#d9d9d9"/>
<text transform="scale(0.8,1)" x="1231.38 1237.62 1243.88 1250.12 1256.38" y="225.9" font-family="Liberation Sans" font-size="10.4" text-anchor="middle" fill="#111" font-weight="bold">4,549</text>
<text transform="scale(0.8,1)" x="108.87 115.37" y="284" font-family="Liberation Sans" font-size="10.6" text-anchor="middle" fill="#c8c8c8">04</text>
<text transform="scale(0.8,1)" x="361.25 367.75" y="284" font-family="Liberation Sans" font-size="10.6" text-anchor="middle" fill="#c8c8c8">05</text>
<text transform="scale(0.8,1)" x="615.25 621.75" y="284" font-family="Liberation Sans" font-size="10.6" text-anchor="middle" fill="#c8c8c8">06</text>
<text transform="scale(0.8,1)" x="856.5 863" y="284" font-family="Liberation Sans" font-size="10.6" text-anchor="middle" fill="#c8c8c8">07</text>
<text transform="scale(0.8,1)" x="1121.25 1127.75" y="284" font-family="Liberation Sans" font-size="10.6" text-anchor="middle" fill="#c8c8c8">08</text>
<rect x="4.8" y="288.6" width="1015" height="3.4" fill="#f2f2f2"/>
<rect x="5.2" y="292.2" width="1014.2" height="216" fill="#1b1b1b"/>
<rect x="5.6" y="292.8" width="965.6" height="214.8" fill="#000"/>
<rect x="5.1" y="291.9" width="966.8" height="1" fill="#b4b4b4"/>
<rect x="5.1" y="291.9" width="0.9" height="216.2" fill="#d2d2d2"/>
<rect x="971" y="291.9" width="0.9" height="216.2" fill="#c4c4c4"/>
<rect x="5.1" y="507.3" width="966.8" height="0.9" fill="#c8c8c8"/>
<line x1="5.8" y1="303.5" x2="971" y2="303.5" stroke="#686868" stroke-width="0.9" stroke-dasharray="1.8 0.84"/>
<line x1="5.8" y1="331.1" x2="971" y2="331.1" stroke="#686868" stroke-width="0.9" stroke-dasharray="1.8 0.84"/>
<line x1="5.8" y1="358.7" x2="971" y2="358.7" stroke="#686868" stroke-width="0.9" stroke-dasharray="1.8 0.84"/>
<line x1="5.8" y1="386.3" x2="971" y2="386.3" stroke="#686868" stroke-width="0.9" stroke-dasharray="1.8 0.84"/>
<line x1="5.8" y1="414.25" x2="971" y2="414.25" stroke="#686868" stroke-width="0.9" stroke-dasharray="1.8 0.84"/>
<line x1="5.8" y1="442.1" x2="971" y2="442.1" stroke="#686868" stroke-width="0.9" stroke-dasharray="1.8 0.84"/>
<line x1="5.8" y1="469.7" x2="971" y2="469.7" stroke="#686868" stroke-width="0.9" stroke-dasharray="1.8 0.84"/>
<line x1="5.8" y1="497.3" x2="971" y2="497.3" stroke="#686868" stroke-width="0.9" stroke-dasharray="1.8 0.84"/>
<line x1="84.4" y1="293" x2="84.4" y2="507.5" stroke="#686868" stroke-width="0.9" stroke-dasharray="1.8 0.84"/>
<line x1="286.3" y1="293" x2="286.3" y2="507.5" stroke="#686868" stroke-width="0.9" stroke-dasharray="1.8 0.84"/>
<line x1="489.5" y1="293" x2="489.5" y2="507.5" stroke="#686868" stroke-width="0.9" stroke-dasharray="1.8 0.84"/>
<line x1="682.5" y1="293" x2="682.5" y2="507.5" stroke="#686868" stroke-width="0.9" stroke-dasharray="1.8 0.84"/>
<line x1="894.3" y1="293" x2="894.3" y2="507.5" stroke="#686868" stroke-width="0.9" stroke-dasharray="1.8 0.84"/>
<g clip-path="url(#cmacd)"><clipPath id="cmacd"><rect x="5.8" y="293" width="965.2" height="214.5"/></clipPath>
<rect x="7.7" y="411.01" width="8.6" height="3.24" fill="#00ffff"/>
<rect x="17.34" y="410.55" width="8.6" height="3.7" fill="#00ffff"/>
<rect x="26.99" y="412.1" width="8.6" height="2.15" fill="#00ffff"/>
<rect x="36.64" y="413.14" width="8.6" height="1.11" fill="#00ffff"/>
<rect x="46.28" y="413.43" width="8.6" height="0.82" fill="#00ffff"/>
<rect x="55.92" y="413.31" width="8.6" height="0.94" fill="#00ffff"/>
<rect x="65.57" y="413.74" width="8.6" height="0.51" fill="#00ffff"/>
<rect x="75.22" y="413.58" width="8.6" height="0.67" fill="#00ffff"/>
<rect x="84.86" y="413.34" width="8.6" height="0.91" fill="#00ffff"/>
<rect x="94.5" y="413.55" width="8.6" height="0.7" fill="#00ffff"/>
<rect x="104.15" y="411.3" width="8.6" height="2.95" fill="#00ffff"/>
<rect x="113.8" y="407.18" width="8.6" height="7.07" fill="#00ffff"/>
<rect x="123.44" y="408.27" width="8.6" height="5.98" fill="#00ffff"/>
<rect x="133.08" y="408.64" width="8.6" height="5.61" fill="#00ffff"/>
<rect x="142.73" y="399.98" width="8.6" height="14.27" fill="#00ffff"/>
<rect x="152.37" y="394.95" width="8.6" height="19.3" fill="#00ffff"/>
<rect x="162.02" y="393.83" width="8.6" height="20.42" fill="#00ffff"/>
<rect x="171.66" y="388.76" width="8.6" height="25.49" fill="#00ffff"/>
<rect x="181.31" y="390.75" width="8.6" height="23.5" fill="#00ffff"/>
<rect x="190.95" y="395.27" width="8.6" height="18.98" fill="#00ffff"/>
<rect x="200.6" y="403.5" width="8.6" height="10.75" fill="#00ffff"/>
<rect x="210.24" y="411.63" width="8.6" height="2.62" fill="#00ffff"/>
<rect x="219.89" y="414.25" width="8.6" height="2.84" fill="#00ffff"/>
<rect x="229.53" y="414.25" width="8.6" height="7.77" fill="#00ffff"/>
<rect x="239.18" y="414.25" width="8.6" height="14.78" fill="#00ffff"/>
<rect x="248.82" y="414.25" width="8.6" height="17.92" fill="#00ffff"/>
<rect x="258.47" y="414.25" width="8.6" height="20.45" fill="#00ffff"/>
<rect x="268.11" y="414.25" width="8.6" height="16.78" fill="#00ffff"/>
<rect x="277.76" y="414.25" width="8.6" height="8.9" fill="#00ffff"/>
<rect x="287.4" y="414.25" width="8.6" height="4.95" fill="#00ffff"/>
<rect x="297.05" y="414.25" width="8.6" height="1.04" fill="#00ffff"/>
<rect x="306.69" y="413.46" width="8.6" height="0.79" fill="#00ffff"/>
<rect x="316.34" y="409.38" width="8.6" height="4.87" fill="#00ffff"/>
<rect x="325.98" y="405.69" width="8.6" height="8.56" fill="#00ffff"/>
<rect x="335.63" y="403.51" width="8.6" height="10.74" fill="#00ffff"/>
<rect x="345.27" y="401.07" width="8.6" height="13.18" fill="#00ffff"/>
<rect x="354.92" y="398.62" width="8.6" height="15.63" fill="#00ffff"/>
<rect x="364.56" y="388.73" width="8.6" height="25.52" fill="#00ffff"/>
<rect x="374.21" y="384.68" width="8.6" height="29.57" fill="#00ffff"/>
<rect x="383.85" y="382.37" width="8.6" height="31.88" fill="#00ffff"/>
<rect x="393.5" y="381.04" width="8.6" height="33.21" fill="#00ffff"/>
<rect x="403.14" y="390.67" width="8.6" height="23.58" fill="#00ffff"/>
<rect x="412.79" y="396.73" width="8.6" height="17.52" fill="#00ffff"/>
<rect x="422.43" y="407.82" width="8.6" height="6.43" fill="#00ffff"/>
<rect x="432.08" y="414.25" width="8.6" height="1.17" fill="#00ffff"/>
<rect x="441.72" y="414.25" width="8.6" height="2.58" fill="#00ffff"/>
<rect x="451.37" y="414.25" width="8.6" height="2.69" fill="#00ffff"/>
<rect x="461.01" y="414.25" width="8.6" height="2.22" fill="#00ffff"/>
<rect x="470.66" y="414.25" width="8.6" height="8.88" fill="#00ffff"/>
<rect x="480.3" y="414.25" width="8.6" height="13.52" fill="#00ffff"/>
<rect x="489.95" y="414.25" width="8.6" height="14.77" fill="#00ffff"/>
<rect x="499.59" y="414.25" width="8.6" height="19.02" fill="#00ffff"/>
<rect x="509.24" y="414.25" width="8.6" height="28.3" fill="#00ffff"/>
<rect x="518.88" y="414.25" width="8.6" height="30.79" fill="#00ffff"/>
<rect x="528.53" y="414.25" width="8.6" height="29.98" fill="#00ffff"/>
<rect x="538.18" y="414.25" width="8.6" height="33.11" fill="#00ffff"/>
<rect x="547.82" y="414.25" width="8.6" height="35.7" fill="#00ffff"/>
<rect x="557.47" y="414.25" width="8.6" height="35.04" fill="#00ffff"/>
<rect x="567.11" y="414.25" width="8.6" height="35.59" fill="#00ffff"/>
<rect x="576.75" y="414.25" width="8.6" height="30.7" fill="#00ffff"/>
<rect x="586.4" y="414.25" width="8.6" height="27.83" fill="#00ffff"/>
<rect x="596.05" y="414.25" width="8.6" height="19.2" fill="#00ffff"/>
<rect x="605.69" y="414.25" width="8.6" height="12.01" fill="#00ffff"/>
<rect x="615.34" y="414.25" width="8.6" height="4.5" fill="#00ffff"/>
<rect x="624.98" y="413.27" width="8.6" height="0.98" fill="#00ffff"/>
<rect x="634.62" y="408.16" width="8.6" height="6.09" fill="#00ffff"/>
<rect x="644.27" y="403.3" width="8.6" height="10.95" fill="#00ffff"/>
<rect x="653.91" y="401.97" width="8.6" height="12.28" fill="#00ffff"/>
<rect x="663.56" y="398.35" width="8.6" height="15.9" fill="#00ffff"/>
<rect x="673.21" y="397.69" width="8.6" height="16.56" fill="#00ffff"/>
<rect x="682.85" y="399.32" width="8.6" height="14.93" fill="#00ffff"/>
<rect x="692.5" y="403.12" width="8.6" height="11.13" fill="#00ffff"/>
<rect x="702.14" y="403.29" width="8.6" height="10.96" fill="#00ffff"/>
<rect x="711.78" y="402.82" width="8.6" height="11.43" fill="#00ffff"/>
<rect x="721.43" y="404.17" width="8.6" height="10.08" fill="#00ffff"/>
<rect x="731.08" y="403.16" width="8.6" height="11.09" fill="#00ffff"/>
<rect x="740.72" y="404.56" width="8.6" height="9.69" fill="#00ffff"/>
<rect x="750.37" y="410.34" width="8.6" height="3.91" fill="#00ffff"/>
<rect x="760.01" y="412.09" width="8.6" height="2.16" fill="#00ffff"/>
<rect x="769.65" y="414.25" width="8.6" height="1.59" fill="#00ffff"/>
<rect x="779.3" y="414.25" width="8.6" height="5.13" fill="#00ffff"/>
<rect x="788.95" y="414.25" width="8.6" height="6.87" fill="#00ffff"/>
<rect x="798.59" y="414.25" width="8.6" height="10.28" fill="#00ffff"/>
<rect x="808.24" y="414.25" width="8.6" height="16.61" fill="#00ffff"/>
<rect x="817.88" y="414.25" width="8.6" height="21.66" fill="#00ffff"/>
<rect x="827.52" y="414.25" width="8.6" height="26.32" fill="#00ffff"/>
<rect x="837.17" y="414.25" width="8.6" height="29.88" fill="#00ffff"/>
<rect x="846.82" y="414.25" width="8.6" height="33.77" fill="#00ffff"/>
<rect x="856.46" y="414.25" width="8.6" height="33.24" fill="#00ffff"/>
<rect x="866.11" y="414.25" width="8.6" height="29.41" fill="#00ffff"/>
<rect x="875.75" y="414.25" width="8.6" height="21.94" fill="#00ffff"/>
<rect x="885.39" y="414.25" width="8.6" height="13.76" fill="#00ffff"/>
<rect x="895.04" y="414.25" width="8.6" height="11.43" fill="#00ffff"/>
<rect x="904.69" y="414.25" width="8.6" height="9.76" fill="#00ffff"/>
<rect x="914.33" y="414.25" width="8.6" height="13.11" fill="#00ffff"/>
<polyline points="2,402 12,403.62 21.64,402.34 31.29,403.42 40.94,404.21 50.58,404.32 60.22,403.98 69.87,404.3 79.52,404 89.16,403.56 98.8,403.61 108.45,400.7 118.09,395.01 127.74,394.77 137.38,393.9 147.03,382.06 156.67,372.75 166.32,367.09 175.97,356.36 185.61,353.13 195.25,353.43 204.9,359.26 214.54,366.82 224.19,372.91 233.83,379.56 243.48,389.85 253.12,396.98 262.77,404.05 272.41,404.12 282.06,398.21 291.7,395.36 301.35,391.68 311,389.68 320.64,384.51 330.28,378.92 339.93,374.35 349.57,368.99 359.22,363.06 368.87,347.5 378.51,336.88 388.15,327.48 397.8,318.77 407.44,323.17 417.09,325.33 426.73,334.99 436.38,342.86 446.02,344.83 455.67,345.54 465.31,345.56 474.96,354.2 484.6,361.84 494.25,366.37 503.89,374.86 513.54,390.43 523.18,399.76 532.83,405.61 542.48,416.09 552.12,426.62 561.76,433.74 571.41,442.2 581.05,444.13 590.7,447.45 600.35,443.08 609.99,438.56 619.63,432.06 629.28,426.36 638.92,419.9 648.57,412.61 658.21,408.54 667.86,401.39 677.5,397.05 687.15,395.36 696.79,396.68 706.44,394.42 716.08,391.42 725.73,390.53 735.38,387.05 745.02,386.3 754.66,391.21 764.31,392.48 773.95,396.58 783.6,401.26 793.25,404.53 802.89,410.22 812.53,420.24 822.18,430.11 831.82,440.61 841.47,450.82 851.12,462.2 860.76,469.07 870.4,471.77 880.05,469.17 889.69,464.06 899.34,464.26 908.99,464.77 918.63,471.02" fill="none" stroke="#b81414" stroke-width="1.1" stroke-linejoin="round"/>
<polyline points="2,407 12,406.86 21.64,406.04 31.29,405.56 40.94,405.32 50.58,405.14 60.22,404.93 69.87,404.81 79.52,404.66 89.16,404.46 98.8,404.31 108.45,403.65 118.09,402.08 127.74,400.75 137.38,399.51 147.03,396.33 156.67,392.04 166.32,387.51 175.97,381.84 185.61,376.62 195.25,372.4 204.9,370.02 214.54,369.43 224.19,370.07 233.83,371.79 243.48,375.08 253.12,379.06 262.77,383.6 272.41,387.33 282.06,389.31 291.7,390.41 301.35,390.64 311,390.47 320.64,389.38 330.28,387.48 339.93,385.09 349.57,382.17 359.22,378.69 368.87,373.02 378.51,366.45 388.15,359.36 397.8,351.98 407.44,346.75 417.09,342.85 426.73,341.42 436.38,341.68 446.02,342.26 455.67,342.85 465.31,343.35 474.96,345.32 484.6,348.32 494.25,351.6 503.89,355.83 513.54,362.12 523.18,368.96 532.83,375.63 542.48,382.98 552.12,390.92 561.76,398.7 571.41,406.61 581.05,413.43 590.7,419.62 600.35,423.88 609.99,426.55 619.63,427.55 629.28,427.34 638.92,425.98 648.57,423.55 658.21,420.82 667.86,417.29 677.5,413.61 687.15,410.29 696.79,407.82 706.44,405.38 716.08,402.84 725.73,400.6 735.38,398.14 745.02,395.99 754.66,395.12 764.31,394.64 773.95,394.99 783.6,396.13 793.25,397.66 802.89,399.94 812.53,403.63 822.18,408.45 831.82,414.29 841.47,420.94 851.12,428.44 860.76,435.83 870.4,442.36 880.05,447.24 889.69,450.3 899.34,452.83 908.99,455 918.63,457.92" fill="none" stroke="#08a808" stroke-width="1.15" stroke-linejoin="round" stroke-dasharray="4 1.6"/>
</g>
<rect x="6.6" y="292.9" width="120.5" height="38.6" fill="#fff" stroke="#5a5a5a" stroke-width="0.9"/>
<text transform="scale(0.6,1)" x="16.28" y="300.7" font-family="Liberation Sans" font-size="8.6" text-anchor="middle" fill="#222" stroke="#222" stroke-width="0.35">M</text><text transform="scale(0.75,1)" x="18.81" y="300.7" font-family="Liberation Sans" font-size="8.6" text-anchor="middle" fill="#222" stroke="#222" stroke-width="0.35">A</text><text transform="scale(0.7,1)" x="26.36 32.56" y="300.7" font-family="Liberation Sans" font-size="8.6" text-anchor="middle" fill="#222" stroke="#222" stroke-width="0.35">CD</text><text transform="scale(0.8,1)" x="33.91" y="300.7" font-family="Liberation Sans" font-size="8.6" text-anchor="middle" fill="#222" stroke="#222" stroke-width="0.35">(</text><path transform="translate(30 294.7) scale(0.7080 0.6400)" d="M5 0L4 1.5 M1.5 1.5H8.5V10H1.5Z M1.5 5.7H8.5" fill="none" stroke="#222" stroke-width="0.85" vector-effect="non-scaling-stroke" stroke-linecap="square"/><path transform="translate(38.68 294.7) scale(0.7080 0.6400)" d="M5 0L0 4 M5 0L10 4 M2.5 4.5H7.5 M1.5 6.5H8.5 M5 4.5V9.5 M0.5 9.5H9.5 M3 7.5L3.5 8.8 M7 7.5L6.5 8.8" fill="none" stroke="#222" stroke-width="0.85" vector-effect="non-scaling-stroke" stroke-linecap="square"/><path transform="translate(51.7 294.7) scale(0.7080 0.6400)" d="M3 0L2 3 M1 2.5H8 M5 0V5 M0 5H10 M3.5 5Q3 9 0.5 10 M6.5 5V9.5H9.5V8" fill="none" stroke="#222" stroke-width="0.85" vector-effect="non-scaling-stroke" stroke-linecap="square"/><path transform="translate(60.38 294.7) scale(0.7080 0.6400)" d="M1 0.5V10 M1 0.5H3L2 3L3.5 5.5L1 7 M5 0.5H9V6H5Z M5 3.2H9 M5 6V10L7 8.5 M7 6L9.5 10" fill="none" stroke="#222" stroke-width="0.85" vector-effect="non-scaling-stroke" stroke-linecap="square"/><path transform="translate(69.06 294.7) scale(0.7080 0.6400)" d="M1 1L2 2.2 M0.5 4H2V8L0 10 M1.5 8.5Q4 10 10 10 M3.5 1H9.5 M4 3H9V7H4Z M4 5H9 M3.5 8H9.5 M6.5 0V9.5" fill="none" stroke="#222" stroke-width="0.85" vector-effect="non-scaling-stroke" stroke-linecap="square"/><path transform="translate(77.74 294.7) scale(0.7080 0.6400)" d="M2 0L0.8 3L3 3.5 M3 2L0.5 6.5H3.5 M2 6.5V10 M0.5 8L1 9.5 M3.5 8L3 9.5 M4.5 1H9.5 M7 0V3 M5 3H9 M4 5H10V6.5 M6 6.5L4.5 10 M8 6.5V9.5H10" fill="none" stroke="#222" stroke-width="0.85" vector-effect="non-scaling-stroke" stroke-linecap="square"/><text transform="scale(0.8,1)" x="109.86" y="300.7" font-family="Liberation Sans" font-size="8.6" text-anchor="middle" fill="#222" stroke="#222" stroke-width="0.35">)</text>
<path d="M111.5 300.2 l3.3 -6 l3.3 6 z M118.3 294.2 l6 6 M124.3 294.2 l-6 6" fill="none" stroke="#555" stroke-width="0.9"/>
<rect x="7" y="307" width="8" height="1.2" fill="#e02020"/>
<text transform="scale(0.6,1)" x="30.13" y="310.2" font-family="Liberation Sans" font-size="8.8" text-anchor="middle" fill="#222" stroke="#222" stroke-width="0.35">M</text><text transform="scale(0.75,1)" x="29.92" y="310.2" font-family="Liberation Sans" font-size="8.8" text-anchor="middle" fill="#222" stroke="#222" stroke-width="0.35">A</text><text transform="scale(0.65,1)" x="41.23 47.94 115.02" y="310.2" font-family="Liberation Sans" font-size="8.8" text-anchor="middle" fill="#222" stroke="#222" stroke-width="0.35">CDC</text><text transform="scale(0.8,1)" x="44.4 49.85 55.3 60.75 66.2 71.65 77.1 82.55 88 98.9 104.35 109.8 115.25 120.7 126.15 131.6 137.05 142.5 147.95 153.4" y="310.2" font-family="Liberation Sans" font-size="8.8" text-anchor="middle" fill="#222" stroke="#222" stroke-width="0.35">(10)(20)():-102.0176</text>
<path d="M7 316.5h8" stroke="#30c030" stroke-width="1.2" stroke-dasharray="1.5 1"/>
<path transform="translate(17 313.42) scale(0.7040 0.6600)" d="M1 1L3 2 M0.5 4L2.5 5 M1 9.5Q6 8 9 2" fill="none" stroke="#222" stroke-width="0.85" vector-effect="non-scaling-stroke" stroke-linecap="square"/><path transform="translate(25.64 313.42) scale(0.7040 0.6600)" d="M3.5 0.5L1 5 M2.5 2.5H8Q7 8 2.5 10 M7.5 0L8.3 1.2 M9 0L9.8 1.2" fill="none" stroke="#222" stroke-width="0.85" vector-effect="non-scaling-stroke" stroke-linecap="square"/><path transform="translate(34.28 313.42) scale(0.7040 0.6600)" d="M0.5 4H9.5 M6 0.5V5.5Q5.5 9 2 10" fill="none" stroke="#222" stroke-width="0.85" vector-effect="non-scaling-stroke" stroke-linecap="square"/><path transform="translate(42.92 313.42) scale(0.7040 0.6600)" d="M3 2V6Q3 9 0.5 10 M6 1V9.5Q8 9 10 6" fill="none" stroke="#222" stroke-width="0.85" vector-effect="non-scaling-stroke" stroke-linecap="square"/><text transform="scale(0.8,1)" x="66.27 71.67 77.07 82.47 87.87 93.28 98.67 104.08 109.47 114.88 120.27 125.67 131.07" y="319.6" font-family="Liberation Sans" font-size="8.8" text-anchor="middle" fill="#222" stroke="#222" stroke-width="0.35">(10):-78.4190</text>
<rect x="7" y="325.8" width="8" height="4" fill="#00ffff"/>
<text transform="scale(0.6,1)" x="30.8" y="329.2" font-family="Liberation Sans" font-size="8.8" text-anchor="middle" fill="#222" stroke="#222" stroke-width="0.35">M</text><text transform="scale(0.75,1)" x="30.45" y="329.2" font-family="Liberation Sans" font-size="8.8" text-anchor="middle" fill="#222" stroke="#222" stroke-width="0.35">A</text><text transform="scale(0.65,1)" x="41.85 48.55" y="329.2" font-family="Liberation Sans" font-size="8.8" text-anchor="middle" fill="#222" stroke="#222" stroke-width="0.35">CD</text><path transform="translate(34.44 323.02) scale(0.7120 0.6600)" d="M0.5 3.5H9.5 M6.5 0.5V10L5 9.5 M6.5 3.5L1 9" fill="none" stroke="#222" stroke-width="0.85" vector-effect="non-scaling-stroke" stroke-linecap="square"/><path transform="translate(43.16 323.02) scale(0.7120 0.6600)" d="M1 1L3 2 M0.5 4L2.5 5 M1 9.5Q6 8 9 2" fill="none" stroke="#222" stroke-width="0.85" vector-effect="non-scaling-stroke" stroke-linecap="square"/><path transform="translate(51.88 323.02) scale(0.7120 0.6600)" d="M2 1V9.5Q6 9 9.5 5" fill="none" stroke="#222" stroke-width="0.85" vector-effect="non-scaling-stroke" stroke-linecap="square"/><path transform="translate(60.6 323.02) scale(0.7120 0.6600)" d="M0.5 5H9.5" fill="none" stroke="#222" stroke-width="0.85" vector-effect="non-scaling-stroke" stroke-linecap="square"/><path transform="translate(69.32 323.02) scale(0.7120 0.6600)" d="M4 0.5L1 5 M3 2.5H8.5Q7 8 2 10 M3 5L7 7" fill="none" stroke="#222" stroke-width="0.85" vector-effect="non-scaling-stroke" stroke-linecap="square"/><text transform="scale(0.8,1)" x="99.4 104.85 110.3 115.75 121.2 126.65 132.1 137.55 143" y="329.2" font-family="Liberation Sans" font-size="8.8" text-anchor="middle" fill="#222" stroke="#222" stroke-width="0.35">:-23.5986</text>
<text transform="scale(0.8,1)" x="1224.44 1230.51 1236.59 1242.66 1248.74 1254.81 1260.89 1266.96" y="301.6" font-family="Liberation Sans" font-size="10" text-anchor="middle" fill="#c8c8c8">200.0000</text>
<text transform="scale(0.8,1)" x="1224.44 1230.51 1236.59 1242.66 1248.74 1254.81 1260.89 1266.96" y="329.2" font-family="Liberation Sans" font-size="10" text-anchor="middle" fill="#c8c8c8">150.0000</text>
<text transform="scale(0.8,1)" x="1224.44 1230.51 1236.59 1242.66 1248.74 1254.81 1260.89 1266.96" y="356.8" font-family="Liberation Sans" font-size="10" text-anchor="middle" fill="#c8c8c8">100.0000</text>
<text transform="scale(0.8,1)" x="1230.51 1236.59 1242.66 1248.74 1254.81 1260.89 1266.96" y="384.4" font-family="Liberation Sans" font-size="10" text-anchor="middle" fill="#c8c8c8">50.0000</text>
<text transform="scale(0.8,1)" x="1236.59 1242.66 1248.74 1254.81 1260.89 1266.96" y="412" font-family="Liberation Sans" font-size="10" text-anchor="middle" fill="#c8c8c8">0.0000</text>
<text transform="scale(0.8,1)" x="1224.44 1230.51 1236.59 1242.66 1248.74 1254.81 1260.89 1266.96" y="439.6" font-family="Liberation Sans" font-size="10" text-anchor="middle" fill="#c8c8c8">-50.0000</text>
<text transform="scale(0.8,1)" x="1218.36 1224.44 1230.51 1236.59 1242.66 1248.74 1254.81 1260.89 1266.96" y="467.2" font-family="Liberation Sans" font-size="10" text-anchor="middle" fill="#c8c8c8">-100.0000</text>
<text transform="scale(0.8,1)" x="1218.36 1224.44 1230.51 1236.59 1242.66 1248.74 1254.81 1260.89 1266.96" y="494.8" font-family="Liberation Sans" font-size="10" text-anchor="middle" fill="#c8c8c8">-150.0000</text>
<rect x="4.8" y="508.2" width="1015" height="3.6" fill="#f2f2f2"/>
<rect x="5.2" y="512" width="1014.2" height="35" fill="#1b1b1b"/>
<rect x="5.6" y="512.8" width="965.6" height="34.2" fill="#000"/>
<rect x="5.1" y="511.9" width="966.8" height="1" fill="#b4b4b4"/>
<rect x="5.1" y="511.9" width="0.9" height="35" fill="#d2d2d2"/>
<rect x="971" y="511.9" width="0.9" height="35" fill="#c4c4c4"/>
<line x1="5.8" y1="522.5" x2="971" y2="522.5" stroke="#686868" stroke-width="0.9" stroke-dasharray="1.8 0.84"/>
<line x1="5.8" y1="545.2" x2="971" y2="545.2" stroke="#686868" stroke-width="0.9" stroke-dasharray="1.8 0.84"/>
<line x1="84.4" y1="513" x2="84.4" y2="546" stroke="#686868" stroke-width="0.9" stroke-dasharray="1.8 0.84"/>
<line x1="286.3" y1="513" x2="286.3" y2="546" stroke="#686868" stroke-width="0.9" stroke-dasharray="1.8 0.84"/>
<line x1="489.5" y1="513" x2="489.5" y2="546" stroke="#686868" stroke-width="0.9" stroke-dasharray="1.8 0.84"/>
<line x1="682.5" y1="513" x2="682.5" y2="546" stroke="#686868" stroke-width="0.9" stroke-dasharray="1.8 0.84"/>
<line x1="894.3" y1="513" x2="894.3" y2="546" stroke="#686868" stroke-width="0.9" stroke-dasharray="1.8 0.84"/>
<rect x="162.07" y="539.5" width="8.5" height="5.7" fill="#00ffff"/>
<rect x="171.72" y="535.5" width="8.5" height="9.7" fill="#00ffff"/>
<rect x="181.36" y="534.75" width="8.5" height="10.45" fill="#00ffff"/>
<rect x="191" y="541" width="8.5" height="4.2" fill="#00ffff"/>
<rect x="200.65" y="540" width="8.5" height="5.2" fill="#00ffff"/>
<rect x="210.29" y="540" width="8.5" height="5.2" fill="#00ffff"/>
<rect x="219.94" y="541" width="8.5" height="4.2" fill="#00ffff"/>
<rect x="229.58" y="541.75" width="8.5" height="3.45" fill="#00ffff"/>
<rect x="239.23" y="540" width="8.5" height="5.2" fill="#00ffff"/>
<rect x="248.88" y="541.75" width="8.5" height="3.45" fill="#00ffff"/>
<rect x="258.52" y="543.5" width="8.5" height="1.7" fill="#00ffff"/>
<rect x="268.16" y="540" width="8.5" height="5.2" fill="#00ffff"/>
<rect x="277.81" y="534.75" width="8.5" height="10.45" fill="#00ffff"/>
<rect x="287.45" y="541" width="8.5" height="4.2" fill="#00ffff"/>
<rect x="297.1" y="538.75" width="8.5" height="6.45" fill="#00ffff"/>
<rect x="306.75" y="536.25" width="8.5" height="8.95" fill="#00ffff"/>
<rect x="316.39" y="538.75" width="8.5" height="6.45" fill="#00ffff"/>
<rect x="326.03" y="540" width="8.5" height="5.2" fill="#00ffff"/>
<rect x="335.68" y="541" width="8.5" height="4.2" fill="#00ffff"/>
<rect x="345.32" y="538.75" width="8.5" height="6.45" fill="#00ffff"/>
<rect x="354.97" y="537.25" width="8.5" height="7.95" fill="#00ffff"/>
<rect x="364.62" y="531" width="8.5" height="14.2" fill="#00ffff"/>
<rect x="374.26" y="534.75" width="8.5" height="10.45" fill="#00ffff"/>
<rect x="383.9" y="536.25" width="8.5" height="8.95" fill="#00ffff"/>
<rect x="393.55" y="534.75" width="8.5" height="10.45" fill="#00ffff"/>
<rect x="403.19" y="533" width="8.5" height="12.2" fill="#00ffff"/>
<rect x="412.84" y="538.75" width="8.5" height="6.45" fill="#00ffff"/>
<rect x="422.48" y="538" width="8.5" height="7.2" fill="#00ffff"/>
<rect x="432.13" y="539.5" width="8.5" height="5.7" fill="#00ffff"/>
<rect x="441.77" y="540.5" width="8.5" height="4.7" fill="#00ffff"/>
<rect x="451.42" y="540.5" width="8.5" height="4.7" fill="#00ffff"/>
<rect x="461.06" y="539.5" width="8.5" height="5.7" fill="#00ffff"/>
<rect x="470.71" y="539.5" width="8.5" height="5.7" fill="#00ffff"/>
<rect x="480.35" y="541" width="8.5" height="4.2" fill="#00ffff"/>
<rect x="490" y="540.5" width="8.5" height="4.7" fill="#00ffff"/>
<rect x="499.64" y="539.5" width="8.5" height="5.7" fill="#00ffff"/>
<rect x="509.29" y="538" width="8.5" height="7.2" fill="#00ffff"/>
<rect x="518.93" y="541" width="8.5" height="4.2" fill="#00ffff"/>
<rect x="528.58" y="543" width="8.5" height="2.2" fill="#00ffff"/>
<rect x="538.23" y="540.5" width="8.5" height="4.7" fill="#00ffff"/>
<rect x="547.87" y="541" width="8.5" height="4.2" fill="#00ffff"/>
<rect x="557.51" y="542" width="8.5" height="3.2" fill="#00ffff"/>
<rect x="567.16" y="541" width="8.5" height="4.2" fill="#00ffff"/>
<rect x="576.8" y="542" width="8.5" height="3.2" fill="#00ffff"/>
<rect x="586.45" y="542" width="8.5" height="3.2" fill="#00ffff"/>
<rect x="596.1" y="539.5" width="8.5" height="5.7" fill="#00ffff"/>
<rect x="605.74" y="541" width="8.5" height="4.2" fill="#00ffff"/>
<rect x="615.38" y="541" width="8.5" height="4.2" fill="#00ffff"/>
<rect x="625.03" y="540.5" width="8.5" height="4.7" fill="#00ffff"/>
<rect x="634.67" y="538.75" width="8.5" height="6.45" fill="#00ffff"/>
<rect x="644.32" y="539.5" width="8.5" height="5.7" fill="#00ffff"/>
<rect x="653.96" y="540.5" width="8.5" height="4.7" fill="#00ffff"/>
<rect x="663.61" y="536.25" width="8.5" height="8.95" fill="#00ffff"/>
<rect x="673.25" y="538.75" width="8.5" height="6.45" fill="#00ffff"/>
<rect x="682.9" y="539.5" width="8.5" height="5.7" fill="#00ffff"/>
<rect x="692.54" y="539.5" width="8.5" height="5.7" fill="#00ffff"/>
<rect x="702.19" y="539.5" width="8.5" height="5.7" fill="#00ffff"/>
<rect x="711.83" y="540.5" width="8.5" height="4.7" fill="#00ffff"/>
<rect x="721.48" y="542" width="8.5" height="3.2" fill="#00ffff"/>
<rect x="731.12" y="538" width="8.5" height="7.2" fill="#00ffff"/>
<rect x="740.77" y="540.5" width="8.5" height="4.7" fill="#00ffff"/>
<rect x="750.41" y="538.75" width="8.5" height="6.45" fill="#00ffff"/>
<rect x="760.06" y="542" width="8.5" height="3.2" fill="#00ffff"/>
<rect x="769.7" y="540.5" width="8.5" height="4.7" fill="#00ffff"/>
<rect x="779.35" y="536.25" width="8.5" height="8.95" fill="#00ffff"/>
<rect x="789" y="539.5" width="8.5" height="5.7" fill="#00ffff"/>
<rect x="798.64" y="538.2" width="8.5" height="7" fill="#00ffff"/>
<rect x="808.28" y="537.3" width="8.5" height="7.9" fill="#00ffff"/>
<rect x="817.93" y="540.4" width="8.5" height="4.8" fill="#00ffff"/>
<rect x="827.57" y="540.4" width="8.5" height="4.8" fill="#00ffff"/>
<rect x="837.22" y="540.4" width="8.5" height="4.8" fill="#00ffff"/>
<rect x="846.87" y="538.2" width="8.5" height="7" fill="#00ffff"/>
<rect x="856.51" y="540.4" width="8.5" height="4.8" fill="#00ffff"/>
<rect x="866.15" y="541" width="8.5" height="4.2" fill="#00ffff"/>
<rect x="875.8" y="542" width="8.5" height="3.2" fill="#00ffff"/>
<rect x="885.44" y="541" width="8.5" height="4.2" fill="#00ffff"/>
<rect x="895.09" y="541.1" width="8.5" height="4.1" fill="#00ffff"/>
<rect x="904.74" y="541.1" width="8.5" height="4.1" fill="#00ffff"/>
<rect x="914.38" y="541.6" width="8.5" height="3.6" fill="#00ffff"/>
<rect x="7" y="512.9" width="154" height="34.1" fill="#fff" stroke="#5a5a5a" stroke-width="0.9"/>
<g clip-path="url(#cvl)"><clipPath id="cvl"><rect x="7" y="512.9" width="154" height="34.1"/></clipPath>
<path transform="translate(8 514.62) scale(0.7180 0.6600)" d="M5 0V10 M1.5 1V5H8.5V1 M0.5 5.5V10H9.5V5.5" fill="none" stroke="#222" stroke-width="0.85" vector-effect="non-scaling-stroke" stroke-linecap="square"/><path transform="translate(16.78 514.62) scale(0.7180 0.6600)" d="M1 1.5H9 M3 2.5L3.8 4 M7 2.5L6.2 4 M0 5H10 M5 0V10 M5 5L0.5 9.5 M5 5L9.5 9.5" fill="none" stroke="#222" stroke-width="0.85" vector-effect="non-scaling-stroke" stroke-linecap="square"/><path transform="translate(25.56 514.62) scale(0.7180 0.6600)" d="M5 0V1 M0.5 1.5H9.5 M3 2.8H7V4.5H3Z M1 6V10 M1 6H9V10L8 9.5 M3.5 7.3H6.5V9H3.5Z" fill="none" stroke="#222" stroke-width="0.85" vector-effect="non-scaling-stroke" stroke-linecap="square"/><text transform="scale(0.8,1)" x="44.79" y="520.8" font-family="Liberation Sans" font-size="8.8" text-anchor="middle" fill="#222" stroke="#222" stroke-width="0.35">(</text><path transform="translate(38.73 514.62) scale(0.7180 0.6600)" d="M5 0L4 1.5 M1.5 1.5H8.5V10H1.5Z M1.5 5.7H8.5" fill="none" stroke="#222" stroke-width="0.85" vector-effect="non-scaling-stroke" stroke-linecap="square"/><path transform="translate(47.51 514.62) scale(0.7180 0.6600)" d="M5 0L0 4 M5 0L10 4 M2.5 4.5H7.5 M1.5 6.5H8.5 M5 4.5V9.5 M0.5 9.5H9.5 M3 7.5L3.5 8.8 M7 7.5L6.5 8.8" fill="none" stroke="#222" stroke-width="0.85" vector-effect="non-scaling-stroke" stroke-linecap="square"/><path transform="translate(60.68 514.62) scale(0.7180 0.6600)" d="M3 0L2 3 M1 2.5H8 M5 0V5 M0 5H10 M3.5 5Q3 9 0.5 10 M6.5 5V9.5H9.5V8" fill="none" stroke="#222" stroke-width="0.85" vector-effect="non-scaling-stroke" stroke-linecap="square"/><path transform="translate(69.46 514.62) scale(0.7180 0.6600)" d="M1 0.5V10 M1 0.5H3L2 3L3.5 5.5L1 7 M5 0.5H9V6H5Z M5 3.2H9 M5 6V10L7 8.5 M7 6L9.5 10" fill="none" stroke="#222" stroke-width="0.85" vector-effect="non-scaling-stroke" stroke-linecap="square"/><path transform="translate(78.24 514.62) scale(0.7180 0.6600)" d="M1 1L2 2.2 M0.5 4H2V8L0 10 M1.5 8.5Q4 10 10 10 M3.5 1H9.5 M4 3H9V7H4Z M4 5H9 M3.5 8H9.5 M6.5 0V9.5" fill="none" stroke="#222" stroke-width="0.85" vector-effect="non-scaling-stroke" stroke-linecap="square"/><path transform="translate(87.02 514.62) scale(0.7180 0.6600)" d="M2 0L0.8 3L3 3.5 M3 2L0.5 6.5H3.5 M2 6.5V10 M0.5 8L1 9.5 M3.5 8L3 9.5 M4.5 1H9.5 M7 0V3 M5 3H9 M4 5H10V6.5 M6 6.5L4.5 10 M8 6.5V9.5H10" fill="none" stroke="#222" stroke-width="0.85" vector-effect="non-scaling-stroke" stroke-linecap="square"/><text transform="scale(0.8,1)" x="121.62" y="520.8" font-family="Liberation Sans" font-size="8.8" text-anchor="middle" fill="#222" stroke="#222" stroke-width="0.35">)</text>
<path d="M146 520.3 l3.3 -6 l3.3 6 z M153 514.3 l6 6 M159 514.3 l-6 6" fill="none" stroke="#555" stroke-width="0.9"/>
<rect x="7" y="526.6" width="8" height="3.5" fill="#10f0f0"/>
<path transform="translate(16.5 524.12) scale(0.7160 0.6600)" d="M5 0V10 M1.5 1V5H8.5V1 M0.5 5.5V10H9.5V5.5" fill="none" stroke="#222" stroke-width="0.85" vector-effect="non-scaling-stroke" stroke-linecap="square"/><path transform="translate(25.26 524.12) scale(0.7160 0.6600)" d="M1 1.5H9 M3 2.5L3.8 4 M7 2.5L6.2 4 M0 5H10 M5 0V10 M5 5L0.5 9.5 M5 5L9.5 9.5" fill="none" stroke="#222" stroke-width="0.85" vector-effect="non-scaling-stroke" stroke-linecap="square"/><path transform="translate(34.02 524.12) scale(0.7160 0.6600)" d="M5 0V1 M0.5 1.5H9.5 M3 2.8H7V4.5H3Z M1 6V10 M1 6H9V10L8 9.5 M3.5 7.3H6.5V9H3.5Z" fill="none" stroke="#222" stroke-width="0.85" vector-effect="non-scaling-stroke" stroke-linecap="square"/><text transform="scale(0.8,1)" x="55.34 60.81 66.29 71.76 77.24" y="530.3" font-family="Liberation Sans" font-size="8.8" text-anchor="middle" fill="#222" stroke="#222" stroke-width="0.35">:7584</text>
<rect x="7" y="535.6" width="8" height="1.2" fill="#60e060"/>
<path transform="translate(16.5 533.62) scale(0.7140 0.6600)" d="M5 0V10 M1.5 1V5H8.5V1 M0.5 5.5V10H9.5V5.5" fill="none" stroke="#222" stroke-width="0.85" vector-effect="non-scaling-stroke" stroke-linecap="square"/><path transform="translate(25.24 533.62) scale(0.7140 0.6600)" d="M1 1.5H9 M3 2.5L3.8 4 M7 2.5L6.2 4 M0 5H10 M5 0V10 M5 5L0.5 9.5 M5 5L9.5 9.5" fill="none" stroke="#222" stroke-width="0.85" vector-effect="non-scaling-stroke" stroke-linecap="square"/><path transform="translate(33.98 533.62) scale(0.7140 0.6600)" d="M5 0V1 M0.5 1.5H9.5 M3 2.8H7V4.5H3Z M1 6V10 M1 6H9V10L8 9.5 M3.5 7.3H6.5V9H3.5Z" fill="none" stroke="#222" stroke-width="0.85" vector-effect="non-scaling-stroke" stroke-linecap="square"/><path transform="translate(42.72 533.62) scale(0.7140 0.6600)" d="M3.5 0L0.5 1 M0 3H4 M2 1V10 M2 4L0 8 M2 4.5L4 6 M7 0L5 2.5 M6 1H9L5.5 5 M7 3L8 3.5 M7.5 5L5 8 M7 6H10L5 10 M7.5 8L8.5 8.5" fill="none" stroke="#222" stroke-width="0.85" vector-effect="non-scaling-stroke" stroke-linecap="square"/><path transform="translate(51.46 533.62) scale(0.7140 0.6600)" d="M1 0.8H5.5 M3 0V9.5 M0.5 2.5H5.5 M1 4H5V7H1Z M1 5.5H5 M0.5 8.3H5.5 M0 10H6 M6.5 3H10V9L8.5 10 M8 0.5Q8 7 6 10" fill="none" stroke="#222" stroke-width="0.85" vector-effect="non-scaling-stroke" stroke-linecap="square"/><path transform="translate(60.2 533.62) scale(0.7140 0.6600)" d="M1 1H9 M2.5 2.5L3.5 4.5 M7.5 2.5L6.5 4.5 M0 5.5H10 M5 1V10" fill="none" stroke="#222" stroke-width="0.85" vector-effect="non-scaling-stroke" stroke-linecap="square"/><path transform="translate(68.94 533.62) scale(0.7140 0.6600)" d="M0.5 4H3.5 M2 1V8 M0 8.5L4 7 M6 0L4.5 3 M5.5 2H9.5V9L8 10 M6 4.5L7 5.5 M5 8L8 6.5" fill="none" stroke="#222" stroke-width="0.85" vector-effect="non-scaling-stroke" stroke-linecap="square"/><text transform="scale(0.8,1)" x="98.96 104.42 109.88 115.34 137.19 142.66 148.12 153.58 159.04 164.51 169.97" y="539.8" font-family="Liberation Sans" font-size="8.8" text-anchor="middle" fill="#222" stroke="#222" stroke-width="0.35">(9)():10065</text><text transform="scale(0.75,1)" x="128.86 140.51" y="539.8" font-family="Liberation Sans" font-size="8.8" text-anchor="middle" fill="#222" stroke="#222" stroke-width="0.35">SA</text><text transform="scale(0.6,1)" x="168.36" y="539.8" font-family="Liberation Sans" font-size="8.8" text-anchor="middle" fill="#222" stroke="#222" stroke-width="0.35">M</text>
<rect x="7" y="545" width="8" height="1.2" fill="#f0a0f0"/>
<text transform="scale(0.75,1)" x="23.98" y="549.3" font-family="Liberation Sans" font-size="8.8" text-anchor="middle" fill="#222" stroke="#222" stroke-width="0.35">S</text><text transform="scale(0.8,1)" x="27.94 33.41" y="549.3" font-family="Liberation Sans" font-size="8.8" text-anchor="middle" fill="#222" stroke="#222" stroke-width="0.35">lo</text><text transform="scale(0.6,1)" x="51.83" y="549.3" font-family="Liberation Sans" font-size="8.8" text-anchor="middle" fill="#222" stroke="#222" stroke-width="0.35">m</text><path transform="translate(33.98 543.12) scale(0.7140 0.6600)" d="M5 0V10 M1.5 1V5H8.5V1 M0.5 5.5V10H9.5V5.5" fill="none" stroke="#222" stroke-width="0.85" vector-effect="non-scaling-stroke" stroke-linecap="square"/><path transform="translate(42.72 543.12) scale(0.7140 0.6600)" d="M1 1.5H9 M3 2.5L3.8 4 M7 2.5L6.2 4 M0 5H10 M5 0V10 M5 5L0.5 9.5 M5 5L9.5 9.5" fill="none" stroke="#222" stroke-width="0.85" vector-effect="non-scaling-stroke" stroke-linecap="square"/><path transform="translate(51.46 543.12) scale(0.7140 0.6600)" d="M5 0V1 M0.5 1.5H9.5 M3 2.8H7V4.5H3Z M1 6V10 M1 6H9V10L8 9.5 M3.5 7.3H6.5V9H3.5Z" fill="none" stroke="#222" stroke-width="0.85" vector-effect="non-scaling-stroke" stroke-linecap="square"/><path transform="translate(60.2 543.12) scale(0.7140 0.6600)" d="M3.5 0L0.5 1 M0 3H4 M2 1V10 M2 4L0 8 M2 4.5L4 6 M7 0L5 2.5 M6 1H9L5.5 5 M7 3L8 3.5 M7.5 5L5 8 M7 6H10L5 10 M7.5 8L8.5 8.5" fill="none" stroke="#222" stroke-width="0.85" vector-effect="non-scaling-stroke" stroke-linecap="square"/><path transform="translate(68.94 543.12) scale(0.7140 0.6600)" d="M1 0.8H5.5 M3 0V9.5 M0.5 2.5H5.5 M1 4H5V7H1Z M1 5.5H5 M0.5 8.3H5.5 M0 10H6 M6.5 3H10V9L8.5 10 M8 0.5Q8 7 6 10" fill="none" stroke="#222" stroke-width="0.85" vector-effect="non-scaling-stroke" stroke-linecap="square"/><path transform="translate(77.68 543.12) scale(0.7140 0.6600)" d="M1 1H9 M2.5 2.5L3.5 4.5 M7.5 2.5L6.5 4.5 M0 5.5H10 M5 1V10" fill="none" stroke="#222" stroke-width="0.85" vector-effect="non-scaling-stroke" stroke-linecap="square"/><path transform="translate(86.42 543.12) scale(0.7140 0.6600)" d="M0.5 4H3.5 M2 1V8 M0 8.5L4 7 M6 0L4.5 3 M5.5 2H9.5V9L8 10 M6 4.5L7 5.5 M5 8L8 6.5" fill="none" stroke="#222" stroke-width="0.85" vector-effect="non-scaling-stroke" stroke-linecap="square"/><text transform="scale(0.8,1)" x="120.81 126.27 131.73 137.19 142.66 164.51 169.97 175.43 180.89 186.36 191.82 197.28" y="549.3" font-family="Liberation Sans" font-size="8.8" text-anchor="middle" fill="#222" stroke="#222" stroke-width="0.35">(26)():11992</text><text transform="scale(0.75,1)" x="157.99 169.65" y="549.3" font-family="Liberation Sans" font-size="8.8" text-anchor="middle" fill="#222" stroke="#222" stroke-width="0.35">SA</text><text transform="scale(0.6,1)" x="204.78" y="549.3" font-family="Liberation Sans" font-size="8.8" text-anchor="middle" fill="#222" stroke="#222" stroke-width="0.35">M</text>
</g>
<text transform="scale(0.8,1)" x="1224.04 1230.11 1236.19 1242.26 1248.34" y="520.6" font-family="Liberation Sans" font-size="10" text-anchor="middle" fill="#c8c8c8">50000</text>
<text transform="scale(0.8,1)" x="1248.79" y="543.9" font-family="Liberation Sans" font-size="10.8" text-anchor="middle" fill="#c8c8c8">0</text>
<rect x="1.6" y="547" width="1018" height="3.6" fill="#c9c9c9"/>
<rect x="1.6" y="550.4" width="1018" height="1.2" fill="#d9d9d9"/>
<rect x="0" y="551.6" width="1024" height="2.4" fill="#f3f3f3"/>
</svg></body></html>
